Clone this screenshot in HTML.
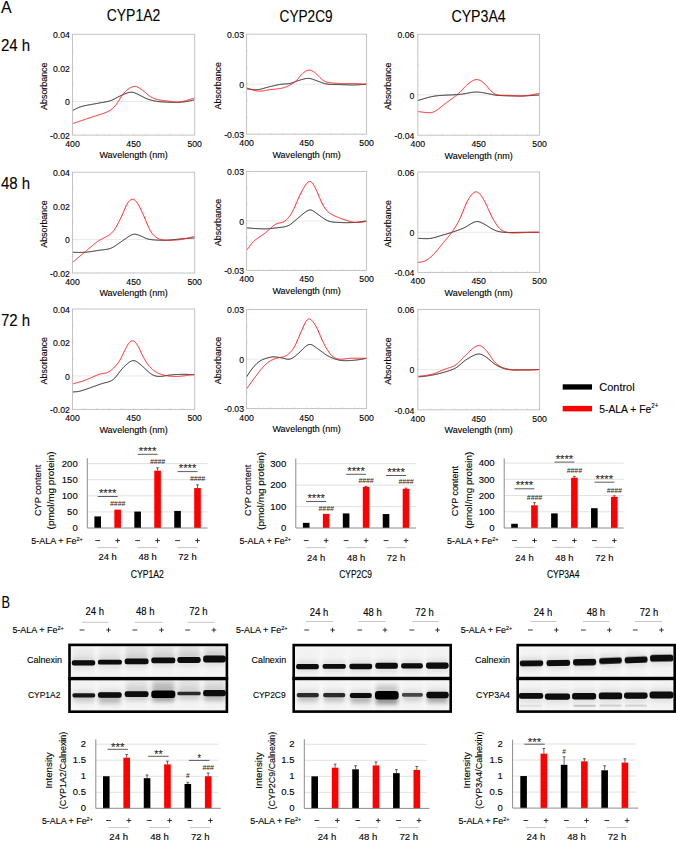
<!DOCTYPE html><html><head><meta charset="utf-8"><style>html,body{margin:0;padding:0;background:#fff;width:676px;height:841px;overflow:hidden;position:relative}</style></head><body><svg width="676" height="841" viewBox="0 0 676 841" style="position:absolute;left:0;top:0" font-family='"Liberation Sans", sans-serif'>
<style>text{stroke:#000;stroke-width:0.12px;paint-order:stroke}</style>
<defs><filter id="bl" x="-20%" y="-100%" width="140%" height="300%"><feGaussianBlur stdDeviation="0.65"/></filter><filter id="bl2" x="-20%" y="-100%" width="140%" height="300%"><feGaussianBlur stdDeviation="2"/></filter></defs>
<rect width="676" height="841" fill="#fff"/>
<text x="0.90" y="13.00" font-size="17" text-anchor="start" fill="#000" textLength="10.6" lengthAdjust="spacingAndGlyphs" style="stroke-width:0.1px">A</text>
<text x="133.50" y="21.30" font-size="16" text-anchor="middle" fill="#000" textLength="53.5" lengthAdjust="spacingAndGlyphs" style="stroke-width:0.1px">CYP1A2</text>
<text x="306.10" y="21.50" font-size="16" text-anchor="middle" fill="#000" textLength="53" lengthAdjust="spacingAndGlyphs" style="stroke-width:0.1px">CYP2C9</text>
<text x="478.60" y="21.50" font-size="16" text-anchor="middle" fill="#000" textLength="54.3" lengthAdjust="spacingAndGlyphs" style="stroke-width:0.1px">CYP3A4</text>
<text x="0.90" y="51.30" font-size="16" text-anchor="start" fill="#000" textLength="29.2" lengthAdjust="spacingAndGlyphs" style="stroke-width:0.1px">24 h</text>
<line x1="72.5" y1="101.50" x2="194.7" y2="101.50" stroke="#e3e3e3" stroke-width="0.8"/>
<line x1="84.72" y1="135.1" x2="84.72" y2="133.60" stroke="#cfcfcf" stroke-width="0.6"/>
<line x1="96.94" y1="135.1" x2="96.94" y2="133.60" stroke="#cfcfcf" stroke-width="0.6"/>
<line x1="109.16" y1="135.1" x2="109.16" y2="133.60" stroke="#cfcfcf" stroke-width="0.6"/>
<line x1="121.38" y1="135.1" x2="121.38" y2="133.60" stroke="#cfcfcf" stroke-width="0.6"/>
<line x1="133.60" y1="135.1" x2="133.60" y2="133.60" stroke="#cfcfcf" stroke-width="0.6"/>
<line x1="145.82" y1="135.1" x2="145.82" y2="133.60" stroke="#cfcfcf" stroke-width="0.6"/>
<line x1="158.04" y1="135.1" x2="158.04" y2="133.60" stroke="#cfcfcf" stroke-width="0.6"/>
<line x1="170.26" y1="135.1" x2="170.26" y2="133.60" stroke="#cfcfcf" stroke-width="0.6"/>
<line x1="182.48" y1="135.1" x2="182.48" y2="133.60" stroke="#cfcfcf" stroke-width="0.6"/>
<line x1="72.5" y1="51.10" x2="74.0" y2="51.10" stroke="#d5d5d5" stroke-width="0.6"/>
<line x1="72.5" y1="67.90" x2="74.0" y2="67.90" stroke="#d5d5d5" stroke-width="0.6"/>
<line x1="72.5" y1="84.70" x2="74.0" y2="84.70" stroke="#d5d5d5" stroke-width="0.6"/>
<line x1="72.5" y1="101.50" x2="74.0" y2="101.50" stroke="#d5d5d5" stroke-width="0.6"/>
<line x1="72.5" y1="118.30" x2="74.0" y2="118.30" stroke="#d5d5d5" stroke-width="0.6"/>
<path d="M72.90,110.41 L73.40,110.14 L73.90,109.87 L74.40,109.60 L74.90,109.33 L75.40,109.07 L75.90,108.81 L76.41,108.56 L76.91,108.32 L77.41,108.08 L77.91,107.86 L78.41,107.64 L78.91,107.44 L79.41,107.24 L79.91,107.06 L80.41,106.89 L80.91,106.72 L81.41,106.57 L81.91,106.43 L82.42,106.29 L82.92,106.16 L83.42,106.04 L83.92,105.92 L84.42,105.80 L84.92,105.69 L85.42,105.59 L85.92,105.48 L86.42,105.38 L86.92,105.28 L87.42,105.18 L87.92,105.08 L88.43,104.99 L88.93,104.90 L89.43,104.80 L89.93,104.71 L90.43,104.62 L90.93,104.53 L91.43,104.44 L91.93,104.35 L92.43,104.26 L92.93,104.17 L93.43,104.08 L93.93,103.99 L94.44,103.90 L94.94,103.81 L95.44,103.72 L95.94,103.63 L96.44,103.54 L96.94,103.45 L97.44,103.36 L97.94,103.26 L98.44,103.17 L98.94,103.08 L99.44,102.98 L99.94,102.89 L100.45,102.80 L100.95,102.72 L101.45,102.63 L101.95,102.55 L102.45,102.46 L102.95,102.38 L103.45,102.30 L103.95,102.22 L104.45,102.13 L104.95,102.05 L105.45,101.96 L105.95,101.86 L106.46,101.77 L106.96,101.67 L107.46,101.56 L107.96,101.44 L108.46,101.32 L108.96,101.18 L109.46,101.04 L109.96,100.88 L110.46,100.71 L110.96,100.53 L111.46,100.33 L111.96,100.13 L112.47,99.90 L112.97,99.67 L113.47,99.43 L113.97,99.17 L114.47,98.91 L114.97,98.64 L115.47,98.37 L115.97,98.10 L116.47,97.82 L116.97,97.55 L117.47,97.28 L117.97,97.02 L118.47,96.77 L118.98,96.52 L119.48,96.27 L119.98,96.04 L120.48,95.81 L120.98,95.58 L121.48,95.36 L121.98,95.14 L122.48,94.92 L122.98,94.70 L123.48,94.48 L123.98,94.27 L124.48,94.06 L124.99,93.86 L125.49,93.66 L125.99,93.46 L126.49,93.28 L126.99,93.10 L127.49,92.93 L127.99,92.78 L128.49,92.63 L128.99,92.51 L129.49,92.40 L129.99,92.31 L130.49,92.25 L131.00,92.21 L131.50,92.21 L132.00,92.23 L132.50,92.29 L133.00,92.38 L133.50,92.49 L134.00,92.64 L134.50,92.81 L135.00,93.00 L135.50,93.21 L136.00,93.43 L136.50,93.65 L137.01,93.88 L137.51,94.11 L138.01,94.35 L138.51,94.59 L139.01,94.84 L139.51,95.09 L140.01,95.35 L140.51,95.61 L141.01,95.87 L141.51,96.14 L142.01,96.41 L142.51,96.67 L143.02,96.94 L143.52,97.19 L144.02,97.45 L144.52,97.69 L145.02,97.93 L145.52,98.16 L146.02,98.38 L146.52,98.59 L147.02,98.79 L147.52,98.98 L148.02,99.17 L148.52,99.34 L149.03,99.50 L149.53,99.66 L150.03,99.81 L150.53,99.96 L151.03,100.09 L151.53,100.23 L152.03,100.35 L152.53,100.48 L153.03,100.59 L153.53,100.70 L154.03,100.81 L154.53,100.91 L155.03,101.01 L155.54,101.11 L156.04,101.20 L156.54,101.28 L157.04,101.36 L157.54,101.44 L158.04,101.51 L158.54,101.57 L159.04,101.63 L159.54,101.68 L160.04,101.73 L160.54,101.78 L161.04,101.82 L161.55,101.86 L162.05,101.89 L162.55,101.92 L163.05,101.95 L163.55,101.98 L164.05,102.01 L164.55,102.03 L165.05,102.05 L165.55,102.08 L166.05,102.10 L166.55,102.12 L167.05,102.14 L167.56,102.16 L168.06,102.18 L168.56,102.20 L169.06,102.21 L169.56,102.23 L170.06,102.24 L170.56,102.25 L171.06,102.26 L171.56,102.27 L172.06,102.28 L172.56,102.29 L173.06,102.30 L173.57,102.30 L174.07,102.31 L174.57,102.31 L175.07,102.31 L175.57,102.31 L176.07,102.31 L176.57,102.31 L177.07,102.30 L177.57,102.29 L178.07,102.28 L178.57,102.27 L179.07,102.25 L179.58,102.23 L180.08,102.21 L180.58,102.18 L181.08,102.15 L181.58,102.11 L182.08,102.07 L182.58,102.03 L183.08,101.98 L183.58,101.92 L184.08,101.86 L184.58,101.79 L185.08,101.72 L185.59,101.65 L186.09,101.57 L186.59,101.48 L187.09,101.39 L187.59,101.30 L188.09,101.20 L188.59,101.10 L189.09,101.00 L189.59,100.90 L190.09,100.79 L190.59,100.68 L191.09,100.57 L191.60,100.46 L192.10,100.35 L192.60,100.24 L193.10,100.13 L193.60,100.02 L194.10,99.91 L194.60,99.80" fill="none" stroke="#1a1a1a" stroke-width="1.0"/>
<path d="M72.90,123.50 L73.40,123.33 L73.90,123.16 L74.40,123.00 L74.90,122.83 L75.40,122.66 L75.90,122.49 L76.41,122.32 L76.91,122.15 L77.41,121.99 L77.91,121.82 L78.41,121.65 L78.91,121.48 L79.41,121.31 L79.91,121.15 L80.41,120.98 L80.91,120.81 L81.41,120.64 L81.91,120.47 L82.42,120.30 L82.92,120.13 L83.42,119.96 L83.92,119.80 L84.42,119.63 L84.92,119.46 L85.42,119.29 L85.92,119.12 L86.42,118.95 L86.92,118.78 L87.42,118.61 L87.92,118.44 L88.43,118.27 L88.93,118.10 L89.43,117.93 L89.93,117.76 L90.43,117.59 L90.93,117.43 L91.43,117.26 L91.93,117.10 L92.43,116.94 L92.93,116.78 L93.43,116.62 L93.93,116.46 L94.44,116.30 L94.94,116.14 L95.44,115.98 L95.94,115.82 L96.44,115.67 L96.94,115.51 L97.44,115.35 L97.94,115.19 L98.44,115.03 L98.94,114.86 L99.44,114.70 L99.94,114.54 L100.45,114.37 L100.95,114.20 L101.45,114.04 L101.95,113.87 L102.45,113.69 L102.95,113.52 L103.45,113.34 L103.95,113.16 L104.45,112.97 L104.95,112.78 L105.45,112.59 L105.95,112.38 L106.46,112.18 L106.96,111.96 L107.46,111.74 L107.96,111.50 L108.46,111.26 L108.96,111.00 L109.46,110.73 L109.96,110.44 L110.46,110.13 L110.96,109.79 L111.46,109.43 L111.96,109.04 L112.47,108.62 L112.97,108.16 L113.47,107.67 L113.97,107.15 L114.47,106.59 L114.97,106.01 L115.47,105.40 L115.97,104.76 L116.47,104.09 L116.97,103.38 L117.47,102.65 L117.97,101.89 L118.47,101.11 L118.98,100.30 L119.48,99.48 L119.98,98.67 L120.48,97.85 L120.98,97.06 L121.48,96.29 L121.98,95.55 L122.48,94.85 L122.98,94.19 L123.48,93.57 L123.98,92.99 L124.48,92.44 L124.99,91.92 L125.49,91.44 L125.99,90.97 L126.49,90.53 L126.99,90.10 L127.49,89.70 L127.99,89.31 L128.49,88.94 L128.99,88.59 L129.49,88.26 L129.99,87.95 L130.49,87.66 L131.00,87.40 L131.50,87.16 L132.00,86.94 L132.50,86.76 L133.00,86.62 L133.50,86.50 L134.00,86.43 L134.50,86.40 L135.00,86.41 L135.50,86.47 L136.00,86.56 L136.50,86.70 L137.01,86.87 L137.51,87.08 L138.01,87.32 L138.51,87.58 L139.01,87.86 L139.51,88.16 L140.01,88.47 L140.51,88.79 L141.01,89.13 L141.51,89.47 L142.01,89.83 L142.51,90.19 L143.02,90.58 L143.52,90.97 L144.02,91.37 L144.52,91.79 L145.02,92.21 L145.52,92.64 L146.02,93.07 L146.52,93.50 L147.02,93.92 L147.52,94.34 L148.02,94.76 L148.52,95.16 L149.03,95.55 L149.53,95.92 L150.03,96.28 L150.53,96.62 L151.03,96.94 L151.53,97.24 L152.03,97.52 L152.53,97.78 L153.03,98.03 L153.53,98.25 L154.03,98.46 L154.53,98.66 L155.03,98.83 L155.54,99.00 L156.04,99.15 L156.54,99.29 L157.04,99.43 L157.54,99.55 L158.04,99.67 L158.54,99.78 L159.04,99.88 L159.54,99.98 L160.04,100.07 L160.54,100.16 L161.04,100.24 L161.55,100.31 L162.05,100.38 L162.55,100.45 L163.05,100.52 L163.55,100.58 L164.05,100.64 L164.55,100.70 L165.05,100.75 L165.55,100.81 L166.05,100.86 L166.55,100.92 L167.05,100.97 L167.56,101.02 L168.06,101.08 L168.56,101.14 L169.06,101.20 L169.56,101.26 L170.06,101.33 L170.56,101.40 L171.06,101.48 L171.56,101.55 L172.06,101.63 L172.56,101.72 L173.06,101.80 L173.57,101.88 L174.07,101.96 L174.57,102.03 L175.07,102.09 L175.57,102.14 L176.07,102.18 L176.57,102.21 L177.07,102.22 L177.57,102.22 L178.07,102.21 L178.57,102.18 L179.07,102.13 L179.58,102.07 L180.08,102.00 L180.58,101.92 L181.08,101.83 L181.58,101.73 L182.08,101.62 L182.58,101.51 L183.08,101.39 L183.58,101.26 L184.08,101.14 L184.58,101.00 L185.08,100.87 L185.59,100.73 L186.09,100.59 L186.59,100.45 L187.09,100.31 L187.59,100.16 L188.09,100.01 L188.59,99.85 L189.09,99.69 L189.59,99.54 L190.09,99.38 L190.59,99.21 L191.09,99.05 L191.60,98.89 L192.10,98.72 L192.60,98.56 L193.10,98.39 L193.60,98.23 L194.10,98.06 L194.60,97.90" fill="none" stroke="#ff1a1a" stroke-width="1.0"/>
<rect x="72.5" y="34.3" width="122.20" height="100.80" fill="none" stroke="#bdbdbd" stroke-width="0.9"/>
<text x="69.90" y="38.10" font-size="8.7" text-anchor="end" fill="#000">0.04</text>
<text x="69.90" y="71.70" font-size="8.7" text-anchor="end" fill="#000">0.02</text>
<text x="69.90" y="105.30" font-size="8.7" text-anchor="end" fill="#000">0</text>
<text x="69.90" y="138.90" font-size="8.7" text-anchor="end" fill="#000">-0.02</text>
<text x="72.50" y="147.10" font-size="8.7" text-anchor="middle" fill="#000">400</text>
<text x="133.60" y="147.10" font-size="8.7" text-anchor="middle" fill="#000">450</text>
<text x="194.70" y="147.10" font-size="8.7" text-anchor="middle" fill="#000">500</text>
<text x="133.60" y="158.40" font-size="9" text-anchor="middle" fill="#000" textLength="68.3" lengthAdjust="spacingAndGlyphs">Wavelength (nm)</text>
<text transform="translate(47.30,86.20) rotate(-90)" x="0" y="0" font-size="9" text-anchor="middle" fill="#000" textLength="47.4" lengthAdjust="spacingAndGlyphs">Absorbance</text>
<line x1="246.6" y1="84.20" x2="366.6" y2="84.20" stroke="#e3e3e3" stroke-width="0.8"/>
<line x1="258.60" y1="134.2" x2="258.60" y2="132.70" stroke="#cfcfcf" stroke-width="0.6"/>
<line x1="270.60" y1="134.2" x2="270.60" y2="132.70" stroke="#cfcfcf" stroke-width="0.6"/>
<line x1="282.60" y1="134.2" x2="282.60" y2="132.70" stroke="#cfcfcf" stroke-width="0.6"/>
<line x1="294.60" y1="134.2" x2="294.60" y2="132.70" stroke="#cfcfcf" stroke-width="0.6"/>
<line x1="306.60" y1="134.2" x2="306.60" y2="132.70" stroke="#cfcfcf" stroke-width="0.6"/>
<line x1="318.60" y1="134.2" x2="318.60" y2="132.70" stroke="#cfcfcf" stroke-width="0.6"/>
<line x1="330.60" y1="134.2" x2="330.60" y2="132.70" stroke="#cfcfcf" stroke-width="0.6"/>
<line x1="342.60" y1="134.2" x2="342.60" y2="132.70" stroke="#cfcfcf" stroke-width="0.6"/>
<line x1="354.60" y1="134.2" x2="354.60" y2="132.70" stroke="#cfcfcf" stroke-width="0.6"/>
<line x1="246.6" y1="50.87" x2="248.1" y2="50.87" stroke="#d5d5d5" stroke-width="0.6"/>
<line x1="246.6" y1="67.53" x2="248.1" y2="67.53" stroke="#d5d5d5" stroke-width="0.6"/>
<line x1="246.6" y1="84.20" x2="248.1" y2="84.20" stroke="#d5d5d5" stroke-width="0.6"/>
<line x1="246.6" y1="100.87" x2="248.1" y2="100.87" stroke="#d5d5d5" stroke-width="0.6"/>
<line x1="246.6" y1="117.53" x2="248.1" y2="117.53" stroke="#d5d5d5" stroke-width="0.6"/>
<path d="M246.70,88.80 L247.20,88.87 L247.70,88.94 L248.20,89.02 L248.70,89.09 L249.20,89.17 L249.70,89.24 L250.20,89.31 L250.70,89.38 L251.20,89.45 L251.70,89.51 L252.20,89.57 L252.70,89.63 L253.20,89.68 L253.70,89.72 L254.20,89.75 L254.70,89.77 L255.20,89.79 L255.70,89.79 L256.20,89.79 L256.70,89.77 L257.20,89.73 L257.70,89.69 L258.20,89.63 L258.71,89.56 L259.21,89.47 L259.71,89.38 L260.21,89.27 L260.71,89.16 L261.21,89.04 L261.71,88.91 L262.21,88.77 L262.71,88.63 L263.21,88.49 L263.71,88.34 L264.21,88.20 L264.71,88.05 L265.21,87.90 L265.71,87.76 L266.21,87.61 L266.71,87.47 L267.21,87.33 L267.71,87.20 L268.21,87.07 L268.71,86.94 L269.21,86.81 L269.71,86.69 L270.21,86.57 L270.71,86.45 L271.21,86.34 L271.71,86.22 L272.21,86.10 L272.71,85.99 L273.21,85.87 L273.71,85.76 L274.21,85.65 L274.71,85.53 L275.21,85.42 L275.71,85.32 L276.21,85.21 L276.71,85.10 L277.21,85.00 L277.71,84.90 L278.21,84.81 L278.71,84.71 L279.21,84.62 L279.71,84.54 L280.21,84.46 L280.71,84.39 L281.21,84.32 L281.71,84.26 L282.21,84.20 L282.72,84.16 L283.22,84.11 L283.72,84.07 L284.22,84.04 L284.72,84.01 L285.22,83.97 L285.72,83.94 L286.22,83.91 L286.72,83.87 L287.22,83.83 L287.72,83.78 L288.22,83.72 L288.72,83.65 L289.22,83.57 L289.72,83.48 L290.22,83.37 L290.72,83.25 L291.22,83.12 L291.72,82.97 L292.22,82.80 L292.72,82.63 L293.22,82.45 L293.72,82.26 L294.22,82.07 L294.72,81.88 L295.22,81.69 L295.72,81.50 L296.22,81.32 L296.72,81.15 L297.22,80.98 L297.72,80.81 L298.22,80.65 L298.72,80.50 L299.22,80.34 L299.72,80.19 L300.22,80.04 L300.72,79.89 L301.22,79.74 L301.72,79.59 L302.22,79.45 L302.72,79.31 L303.22,79.18 L303.72,79.05 L304.22,78.93 L304.72,78.82 L305.22,78.72 L305.72,78.63 L306.22,78.55 L306.73,78.49 L307.23,78.45 L307.73,78.42 L308.23,78.41 L308.73,78.43 L309.23,78.46 L309.73,78.52 L310.23,78.60 L310.73,78.70 L311.23,78.82 L311.73,78.95 L312.23,79.11 L312.73,79.27 L313.23,79.44 L313.73,79.62 L314.23,79.81 L314.73,80.00 L315.23,80.18 L315.73,80.37 L316.23,80.55 L316.73,80.74 L317.23,80.92 L317.73,81.10 L318.23,81.29 L318.73,81.48 L319.23,81.67 L319.73,81.86 L320.23,82.05 L320.73,82.24 L321.23,82.43 L321.73,82.62 L322.23,82.80 L322.73,82.97 L323.23,83.13 L323.73,83.29 L324.23,83.43 L324.73,83.57 L325.23,83.69 L325.73,83.80 L326.23,83.90 L326.73,83.98 L327.23,84.06 L327.73,84.13 L328.23,84.19 L328.73,84.24 L329.23,84.28 L329.73,84.32 L330.23,84.36 L330.74,84.38 L331.24,84.41 L331.74,84.43 L332.24,84.45 L332.74,84.46 L333.24,84.47 L333.74,84.48 L334.24,84.49 L334.74,84.50 L335.24,84.51 L335.74,84.52 L336.24,84.52 L336.74,84.53 L337.24,84.54 L337.74,84.55 L338.24,84.56 L338.74,84.57 L339.24,84.58 L339.74,84.60 L340.24,84.61 L340.74,84.63 L341.24,84.65 L341.74,84.67 L342.24,84.69 L342.74,84.70 L343.24,84.72 L343.74,84.74 L344.24,84.76 L344.74,84.78 L345.24,84.80 L345.74,84.82 L346.24,84.84 L346.74,84.86 L347.24,84.88 L347.74,84.89 L348.24,84.91 L348.74,84.92 L349.24,84.94 L349.74,84.95 L350.24,84.96 L350.74,84.98 L351.24,84.99 L351.74,84.99 L352.24,85.00 L352.74,85.00 L353.24,85.01 L353.74,85.00 L354.24,85.00 L354.75,84.99 L355.25,84.98 L355.75,84.97 L356.25,84.95 L356.75,84.93 L357.25,84.91 L357.75,84.88 L358.25,84.84 L358.75,84.81 L359.25,84.77 L359.75,84.73 L360.25,84.68 L360.75,84.63 L361.25,84.59 L361.75,84.53 L362.25,84.48 L362.75,84.43 L363.25,84.37 L363.75,84.31 L364.25,84.26 L364.75,84.20 L365.25,84.14 L365.75,84.08 L366.25,84.03 L366.50,84.00" fill="none" stroke="#1a1a1a" stroke-width="1.0"/>
<path d="M246.70,87.90 L247.20,88.06 L247.70,88.23 L248.20,88.40 L248.70,88.57 L249.20,88.74 L249.70,88.91 L250.20,89.08 L250.70,89.25 L251.20,89.41 L251.70,89.57 L252.20,89.73 L252.70,89.89 L253.20,90.04 L253.70,90.19 L254.20,90.33 L254.70,90.46 L255.20,90.58 L255.70,90.70 L256.20,90.81 L256.70,90.90 L257.20,90.98 L257.70,91.05 L258.20,91.10 L258.71,91.14 L259.21,91.16 L259.71,91.17 L260.21,91.16 L260.71,91.13 L261.21,91.09 L261.71,91.04 L262.21,90.97 L262.71,90.90 L263.21,90.82 L263.71,90.73 L264.21,90.64 L264.71,90.54 L265.21,90.45 L265.71,90.35 L266.21,90.25 L266.71,90.16 L267.21,90.07 L267.71,89.99 L268.21,89.91 L268.71,89.84 L269.21,89.78 L269.71,89.72 L270.21,89.66 L270.71,89.60 L271.21,89.55 L271.71,89.50 L272.21,89.45 L272.71,89.41 L273.21,89.36 L273.71,89.31 L274.21,89.27 L274.71,89.22 L275.21,89.17 L275.71,89.12 L276.21,89.07 L276.71,89.01 L277.21,88.95 L277.71,88.89 L278.21,88.82 L278.71,88.75 L279.21,88.67 L279.71,88.59 L280.21,88.50 L280.71,88.40 L281.21,88.30 L281.71,88.19 L282.21,88.07 L282.72,87.94 L283.22,87.80 L283.72,87.66 L284.22,87.50 L284.72,87.34 L285.22,87.16 L285.72,86.98 L286.22,86.78 L286.72,86.58 L287.22,86.36 L287.72,86.14 L288.22,85.91 L288.72,85.67 L289.22,85.42 L289.72,85.16 L290.22,84.90 L290.72,84.62 L291.22,84.34 L291.72,84.04 L292.22,83.74 L292.72,83.42 L293.22,83.08 L293.72,82.73 L294.22,82.36 L294.72,81.97 L295.22,81.55 L295.72,81.11 L296.22,80.64 L296.72,80.13 L297.22,79.61 L297.72,79.05 L298.22,78.48 L298.72,77.88 L299.22,77.28 L299.72,76.69 L300.22,76.09 L300.72,75.52 L301.22,74.96 L301.72,74.43 L302.22,73.93 L302.72,73.46 L303.22,73.02 L303.72,72.61 L304.22,72.22 L304.72,71.87 L305.22,71.54 L305.72,71.25 L306.22,70.98 L306.73,70.76 L307.23,70.57 L307.73,70.42 L308.23,70.31 L308.73,70.24 L309.23,70.22 L309.73,70.25 L310.23,70.31 L310.73,70.42 L311.23,70.56 L311.73,70.74 L312.23,70.95 L312.73,71.20 L313.23,71.47 L313.73,71.77 L314.23,72.10 L314.73,72.45 L315.23,72.84 L315.73,73.25 L316.23,73.69 L316.73,74.16 L317.23,74.64 L317.73,75.15 L318.23,75.66 L318.73,76.18 L319.23,76.69 L319.73,77.20 L320.23,77.69 L320.73,78.18 L321.23,78.65 L321.73,79.10 L322.23,79.53 L322.73,79.94 L323.23,80.32 L323.73,80.67 L324.23,80.99 L324.73,81.27 L325.23,81.51 L325.73,81.72 L326.23,81.91 L326.73,82.06 L327.23,82.20 L327.73,82.32 L328.23,82.43 L328.73,82.52 L329.23,82.61 L329.73,82.68 L330.23,82.75 L330.74,82.82 L331.24,82.88 L331.74,82.93 L332.24,82.98 L332.74,83.03 L333.24,83.08 L333.74,83.12 L334.24,83.16 L334.74,83.19 L335.24,83.23 L335.74,83.26 L336.24,83.29 L336.74,83.32 L337.24,83.35 L337.74,83.38 L338.24,83.41 L338.74,83.43 L339.24,83.46 L339.74,83.48 L340.24,83.50 L340.74,83.52 L341.24,83.53 L341.74,83.54 L342.24,83.55 L342.74,83.56 L343.24,83.56 L343.74,83.57 L344.24,83.57 L344.74,83.57 L345.24,83.56 L345.74,83.56 L346.24,83.55 L346.74,83.55 L347.24,83.54 L347.74,83.53 L348.24,83.52 L348.74,83.52 L349.24,83.51 L349.74,83.50 L350.24,83.49 L350.74,83.49 L351.24,83.48 L351.74,83.48 L352.24,83.48 L352.74,83.48 L353.24,83.48 L353.74,83.48 L354.24,83.49 L354.75,83.50 L355.25,83.51 L355.75,83.53 L356.25,83.55 L356.75,83.57 L357.25,83.60 L357.75,83.63 L358.25,83.66 L358.75,83.69 L359.25,83.73 L359.75,83.77 L360.25,83.81 L360.75,83.85 L361.25,83.90 L361.75,83.94 L362.25,83.99 L362.75,84.03 L363.25,84.08 L363.75,84.13 L364.25,84.18 L364.75,84.23 L365.25,84.28 L365.75,84.33 L366.25,84.38 L366.50,84.40" fill="none" stroke="#ff1a1a" stroke-width="1.0"/>
<rect x="246.6" y="34.2" width="120.00" height="100.00" fill="none" stroke="#bdbdbd" stroke-width="0.9"/>
<text x="244.00" y="38.00" font-size="8.7" text-anchor="end" fill="#000">0.03</text>
<text x="244.00" y="88.00" font-size="8.7" text-anchor="end" fill="#000">0</text>
<text x="244.00" y="138.00" font-size="8.7" text-anchor="end" fill="#000">-0.03</text>
<text x="246.60" y="146.20" font-size="8.7" text-anchor="middle" fill="#000">400</text>
<text x="306.60" y="146.20" font-size="8.7" text-anchor="middle" fill="#000">450</text>
<text x="366.60" y="146.20" font-size="8.7" text-anchor="middle" fill="#000">500</text>
<text x="306.60" y="157.50" font-size="9" text-anchor="middle" fill="#000" textLength="68.3" lengthAdjust="spacingAndGlyphs">Wavelength (nm)</text>
<text transform="translate(221.40,85.70) rotate(-90)" x="0" y="0" font-size="9" text-anchor="middle" fill="#000" textLength="47.4" lengthAdjust="spacingAndGlyphs">Absorbance</text>
<line x1="417.8" y1="94.84" x2="539.6" y2="94.84" stroke="#e3e3e3" stroke-width="0.8"/>
<line x1="429.98" y1="135.2" x2="429.98" y2="133.70" stroke="#cfcfcf" stroke-width="0.6"/>
<line x1="442.16" y1="135.2" x2="442.16" y2="133.70" stroke="#cfcfcf" stroke-width="0.6"/>
<line x1="454.34" y1="135.2" x2="454.34" y2="133.70" stroke="#cfcfcf" stroke-width="0.6"/>
<line x1="466.52" y1="135.2" x2="466.52" y2="133.70" stroke="#cfcfcf" stroke-width="0.6"/>
<line x1="478.70" y1="135.2" x2="478.70" y2="133.70" stroke="#cfcfcf" stroke-width="0.6"/>
<line x1="490.88" y1="135.2" x2="490.88" y2="133.70" stroke="#cfcfcf" stroke-width="0.6"/>
<line x1="503.06" y1="135.2" x2="503.06" y2="133.70" stroke="#cfcfcf" stroke-width="0.6"/>
<line x1="515.24" y1="135.2" x2="515.24" y2="133.70" stroke="#cfcfcf" stroke-width="0.6"/>
<line x1="527.42" y1="135.2" x2="527.42" y2="133.70" stroke="#cfcfcf" stroke-width="0.6"/>
<line x1="417.8" y1="44.39" x2="419.3" y2="44.39" stroke="#d5d5d5" stroke-width="0.6"/>
<line x1="417.8" y1="54.48" x2="419.3" y2="54.48" stroke="#d5d5d5" stroke-width="0.6"/>
<line x1="417.8" y1="64.57" x2="419.3" y2="64.57" stroke="#d5d5d5" stroke-width="0.6"/>
<line x1="417.8" y1="74.66" x2="419.3" y2="74.66" stroke="#d5d5d5" stroke-width="0.6"/>
<line x1="417.8" y1="84.75" x2="419.3" y2="84.75" stroke="#d5d5d5" stroke-width="0.6"/>
<line x1="417.8" y1="94.84" x2="419.3" y2="94.84" stroke="#d5d5d5" stroke-width="0.6"/>
<line x1="417.8" y1="104.93" x2="419.3" y2="104.93" stroke="#d5d5d5" stroke-width="0.6"/>
<line x1="417.8" y1="115.02" x2="419.3" y2="115.02" stroke="#d5d5d5" stroke-width="0.6"/>
<line x1="417.8" y1="125.11" x2="419.3" y2="125.11" stroke="#d5d5d5" stroke-width="0.6"/>
<path d="M418.00,100.50 L418.50,100.35 L419.00,100.19 L419.50,100.04 L420.00,99.89 L420.50,99.73 L421.00,99.58 L421.50,99.42 L422.00,99.27 L422.51,99.11 L423.01,98.96 L423.51,98.81 L424.01,98.66 L424.51,98.51 L425.01,98.36 L425.51,98.21 L426.01,98.07 L426.51,97.93 L427.01,97.79 L427.51,97.65 L428.01,97.52 L428.51,97.39 L429.01,97.26 L429.51,97.14 L430.01,97.02 L430.52,96.90 L431.02,96.79 L431.52,96.68 L432.02,96.58 L432.52,96.48 L433.02,96.38 L433.52,96.29 L434.02,96.21 L434.52,96.13 L435.02,96.05 L435.52,95.98 L436.02,95.92 L436.52,95.85 L437.02,95.80 L437.52,95.74 L438.02,95.69 L438.53,95.64 L439.03,95.60 L439.53,95.55 L440.03,95.51 L440.53,95.47 L441.03,95.43 L441.53,95.40 L442.03,95.36 L442.53,95.33 L443.03,95.30 L443.53,95.28 L444.03,95.25 L444.53,95.23 L445.03,95.20 L445.53,95.18 L446.03,95.16 L446.54,95.13 L447.04,95.11 L447.54,95.09 L448.04,95.07 L448.54,95.05 L449.04,95.03 L449.54,95.01 L450.04,94.99 L450.54,94.97 L451.04,94.95 L451.54,94.92 L452.04,94.90 L452.54,94.88 L453.04,94.85 L453.54,94.83 L454.04,94.81 L454.55,94.78 L455.05,94.75 L455.55,94.72 L456.05,94.69 L456.55,94.66 L457.05,94.63 L457.55,94.59 L458.05,94.55 L458.55,94.51 L459.05,94.47 L459.55,94.42 L460.05,94.37 L460.55,94.32 L461.05,94.26 L461.55,94.20 L462.05,94.13 L462.56,94.06 L463.06,93.98 L463.56,93.90 L464.06,93.82 L464.56,93.73 L465.06,93.64 L465.56,93.55 L466.06,93.45 L466.56,93.35 L467.06,93.26 L467.56,93.16 L468.06,93.06 L468.56,92.97 L469.06,92.87 L469.56,92.78 L470.06,92.69 L470.56,92.60 L471.07,92.52 L471.57,92.44 L472.07,92.36 L472.57,92.30 L473.07,92.24 L473.57,92.18 L474.07,92.14 L474.57,92.10 L475.07,92.08 L475.57,92.06 L476.07,92.05 L476.57,92.05 L477.07,92.06 L477.57,92.08 L478.07,92.10 L478.57,92.14 L479.08,92.18 L479.58,92.23 L480.08,92.28 L480.58,92.34 L481.08,92.41 L481.58,92.48 L482.08,92.56 L482.58,92.64 L483.08,92.72 L483.58,92.81 L484.08,92.90 L484.58,93.00 L485.08,93.09 L485.58,93.19 L486.08,93.28 L486.58,93.38 L487.09,93.48 L487.59,93.57 L488.09,93.67 L488.59,93.76 L489.09,93.86 L489.59,93.95 L490.09,94.05 L490.59,94.15 L491.09,94.25 L491.59,94.35 L492.09,94.46 L492.59,94.57 L493.09,94.68 L493.59,94.79 L494.09,94.89 L494.59,94.98 L495.10,95.07 L495.60,95.14 L496.10,95.21 L496.60,95.26 L497.10,95.31 L497.60,95.36 L498.10,95.40 L498.60,95.43 L499.10,95.47 L499.60,95.50 L500.10,95.52 L500.60,95.55 L501.10,95.58 L501.60,95.60 L502.10,95.62 L502.60,95.65 L503.11,95.67 L503.61,95.69 L504.11,95.71 L504.61,95.73 L505.11,95.75 L505.61,95.77 L506.11,95.78 L506.61,95.80 L507.11,95.82 L507.61,95.83 L508.11,95.85 L508.61,95.86 L509.11,95.87 L509.61,95.89 L510.11,95.90 L510.61,95.91 L511.12,95.92 L511.62,95.93 L512.12,95.94 L512.62,95.95 L513.12,95.96 L513.62,95.97 L514.12,95.98 L514.62,95.98 L515.12,95.99 L515.62,95.99 L516.12,96.00 L516.62,96.00 L517.12,96.00 L517.62,96.00 L518.12,96.00 L518.62,96.00 L519.12,96.00 L519.63,95.99 L520.13,95.99 L520.63,95.98 L521.13,95.97 L521.63,95.96 L522.13,95.95 L522.63,95.93 L523.13,95.92 L523.63,95.90 L524.13,95.88 L524.63,95.86 L525.13,95.84 L525.63,95.82 L526.13,95.80 L526.63,95.77 L527.13,95.75 L527.64,95.72 L528.14,95.70 L528.64,95.67 L529.14,95.64 L529.64,95.61 L530.14,95.58 L530.64,95.55 L531.14,95.52 L531.64,95.49 L532.14,95.46 L532.64,95.43 L533.14,95.40 L533.64,95.37 L534.14,95.33 L534.64,95.30 L535.14,95.27 L535.65,95.24 L536.15,95.20 L536.65,95.17 L537.15,95.14 L537.65,95.11 L538.15,95.08 L538.65,95.05 L539.15,95.01 L539.40,95.00" fill="none" stroke="#1a1a1a" stroke-width="1.0"/>
<path d="M418.00,111.50 L418.50,111.57 L419.00,111.65 L419.50,111.73 L420.00,111.80 L420.50,111.88 L421.00,111.95 L421.50,112.02 L422.00,112.09 L422.51,112.16 L423.01,112.22 L423.51,112.28 L424.01,112.33 L424.51,112.38 L425.01,112.42 L425.51,112.47 L426.01,112.51 L426.51,112.54 L427.01,112.58 L427.51,112.62 L428.01,112.66 L428.51,112.69 L429.01,112.71 L429.51,112.72 L430.01,112.71 L430.52,112.68 L431.02,112.63 L431.52,112.56 L432.02,112.45 L432.52,112.32 L433.02,112.16 L433.52,111.97 L434.02,111.75 L434.52,111.51 L435.02,111.25 L435.52,110.96 L436.02,110.65 L436.52,110.32 L437.02,109.98 L437.52,109.63 L438.02,109.27 L438.53,108.90 L439.03,108.51 L439.53,108.13 L440.03,107.74 L440.53,107.34 L441.03,106.94 L441.53,106.54 L442.03,106.14 L442.53,105.74 L443.03,105.34 L443.53,104.94 L444.03,104.54 L444.53,104.15 L445.03,103.76 L445.53,103.38 L446.03,103.00 L446.54,102.62 L447.04,102.25 L447.54,101.88 L448.04,101.52 L448.54,101.15 L449.04,100.79 L449.54,100.43 L450.04,100.07 L450.54,99.71 L451.04,99.35 L451.54,98.99 L452.04,98.62 L452.54,98.26 L453.04,97.89 L453.54,97.51 L454.04,97.14 L454.55,96.76 L455.05,96.37 L455.55,95.98 L456.05,95.58 L456.55,95.17 L457.05,94.75 L457.55,94.33 L458.05,93.89 L458.55,93.43 L459.05,92.97 L459.55,92.49 L460.05,92.00 L460.55,91.49 L461.05,90.98 L461.55,90.46 L462.05,89.93 L462.56,89.39 L463.06,88.86 L463.56,88.32 L464.06,87.79 L464.56,87.26 L465.06,86.75 L465.56,86.24 L466.06,85.75 L466.56,85.27 L467.06,84.82 L467.56,84.37 L468.06,83.95 L468.56,83.53 L469.06,83.14 L469.56,82.75 L470.06,82.38 L470.56,82.03 L471.07,81.69 L471.57,81.37 L472.07,81.06 L472.57,80.78 L473.07,80.53 L473.57,80.29 L474.07,80.09 L474.57,79.92 L475.07,79.79 L475.57,79.68 L476.07,79.62 L476.57,79.59 L477.07,79.61 L477.57,79.66 L478.07,79.75 L478.57,79.88 L479.08,80.05 L479.58,80.25 L480.08,80.48 L480.58,80.74 L481.08,81.03 L481.58,81.35 L482.08,81.69 L482.58,82.06 L483.08,82.45 L483.58,82.86 L484.08,83.30 L484.58,83.77 L485.08,84.26 L485.58,84.78 L486.08,85.32 L486.58,85.88 L487.09,86.46 L487.59,87.05 L488.09,87.65 L488.59,88.25 L489.09,88.84 L489.59,89.43 L490.09,89.99 L490.59,90.54 L491.09,91.06 L491.59,91.55 L492.09,92.01 L492.59,92.44 L493.09,92.83 L493.59,93.19 L494.09,93.51 L494.59,93.80 L495.10,94.05 L495.60,94.27 L496.10,94.46 L496.60,94.62 L497.10,94.75 L497.60,94.87 L498.10,94.96 L498.60,95.04 L499.10,95.11 L499.60,95.17 L500.10,95.21 L500.60,95.25 L501.10,95.28 L501.60,95.30 L502.10,95.32 L502.60,95.33 L503.11,95.34 L503.61,95.34 L504.11,95.34 L504.61,95.35 L505.11,95.35 L505.61,95.35 L506.11,95.35 L506.61,95.35 L507.11,95.36 L507.61,95.36 L508.11,95.37 L508.61,95.38 L509.11,95.39 L509.61,95.41 L510.11,95.43 L510.61,95.45 L511.12,95.48 L511.62,95.51 L512.12,95.54 L512.62,95.57 L513.12,95.61 L513.62,95.65 L514.12,95.69 L514.62,95.73 L515.12,95.77 L515.62,95.80 L516.12,95.84 L516.62,95.88 L517.12,95.91 L517.62,95.94 L518.12,95.97 L518.62,95.99 L519.12,96.02 L519.63,96.03 L520.13,96.04 L520.63,96.05 L521.13,96.05 L521.63,96.05 L522.13,96.04 L522.63,96.03 L523.13,96.00 L523.63,95.98 L524.13,95.94 L524.63,95.90 L525.13,95.85 L525.63,95.80 L526.13,95.74 L526.63,95.68 L527.13,95.61 L527.64,95.54 L528.14,95.47 L528.64,95.39 L529.14,95.31 L529.64,95.23 L530.14,95.15 L530.64,95.06 L531.14,94.97 L531.64,94.88 L532.14,94.79 L532.64,94.70 L533.14,94.60 L533.64,94.51 L534.14,94.41 L534.64,94.32 L535.14,94.22 L535.65,94.12 L536.15,94.02 L536.65,93.93 L537.15,93.83 L537.65,93.73 L538.15,93.64 L538.65,93.54 L539.15,93.45 L539.40,93.40" fill="none" stroke="#ff1a1a" stroke-width="1.0"/>
<rect x="417.8" y="34.3" width="121.80" height="100.90" fill="none" stroke="#bdbdbd" stroke-width="0.9"/>
<text x="414.40" y="38.10" font-size="8.7" text-anchor="end" fill="#000">0.06</text>
<text x="414.40" y="98.64" font-size="8.7" text-anchor="end" fill="#000">0</text>
<text x="414.40" y="139.00" font-size="8.7" text-anchor="end" fill="#000">-0.04</text>
<text x="417.80" y="147.20" font-size="8.7" text-anchor="middle" fill="#000">400</text>
<text x="478.70" y="147.20" font-size="8.7" text-anchor="middle" fill="#000">450</text>
<text x="539.60" y="147.20" font-size="8.7" text-anchor="middle" fill="#000">500</text>
<text x="478.70" y="158.50" font-size="9" text-anchor="middle" fill="#000" textLength="68.3" lengthAdjust="spacingAndGlyphs">Wavelength (nm)</text>
<text transform="translate(390.60,86.25) rotate(-90)" x="0" y="0" font-size="9" text-anchor="middle" fill="#000" textLength="47.4" lengthAdjust="spacingAndGlyphs">Absorbance</text>
<text x="0.90" y="189.20" font-size="16" text-anchor="start" fill="#000" textLength="29.2" lengthAdjust="spacingAndGlyphs" style="stroke-width:0.1px">48 h</text>
<line x1="72.5" y1="239.40" x2="194.7" y2="239.40" stroke="#e3e3e3" stroke-width="0.8"/>
<line x1="84.72" y1="273.0" x2="84.72" y2="271.50" stroke="#cfcfcf" stroke-width="0.6"/>
<line x1="96.94" y1="273.0" x2="96.94" y2="271.50" stroke="#cfcfcf" stroke-width="0.6"/>
<line x1="109.16" y1="273.0" x2="109.16" y2="271.50" stroke="#cfcfcf" stroke-width="0.6"/>
<line x1="121.38" y1="273.0" x2="121.38" y2="271.50" stroke="#cfcfcf" stroke-width="0.6"/>
<line x1="133.60" y1="273.0" x2="133.60" y2="271.50" stroke="#cfcfcf" stroke-width="0.6"/>
<line x1="145.82" y1="273.0" x2="145.82" y2="271.50" stroke="#cfcfcf" stroke-width="0.6"/>
<line x1="158.04" y1="273.0" x2="158.04" y2="271.50" stroke="#cfcfcf" stroke-width="0.6"/>
<line x1="170.26" y1="273.0" x2="170.26" y2="271.50" stroke="#cfcfcf" stroke-width="0.6"/>
<line x1="182.48" y1="273.0" x2="182.48" y2="271.50" stroke="#cfcfcf" stroke-width="0.6"/>
<line x1="72.5" y1="189.00" x2="74.0" y2="189.00" stroke="#d5d5d5" stroke-width="0.6"/>
<line x1="72.5" y1="205.80" x2="74.0" y2="205.80" stroke="#d5d5d5" stroke-width="0.6"/>
<line x1="72.5" y1="222.60" x2="74.0" y2="222.60" stroke="#d5d5d5" stroke-width="0.6"/>
<line x1="72.5" y1="239.40" x2="74.0" y2="239.40" stroke="#d5d5d5" stroke-width="0.6"/>
<line x1="72.5" y1="256.20" x2="74.0" y2="256.20" stroke="#d5d5d5" stroke-width="0.6"/>
<path d="M72.60,252.30 L73.10,252.31 L73.60,252.32 L74.10,252.33 L74.60,252.34 L75.10,252.36 L75.60,252.37 L76.11,252.38 L76.61,252.39 L77.11,252.40 L77.61,252.41 L78.11,252.42 L78.61,252.43 L79.11,252.43 L79.61,252.44 L80.11,252.44 L80.61,252.43 L81.11,252.43 L81.61,252.42 L82.12,252.41 L82.62,252.40 L83.12,252.38 L83.62,252.36 L84.12,252.33 L84.62,252.30 L85.12,252.27 L85.62,252.23 L86.12,252.18 L86.62,252.13 L87.12,252.08 L87.62,252.02 L88.13,251.97 L88.63,251.90 L89.13,251.84 L89.63,251.77 L90.13,251.70 L90.63,251.63 L91.13,251.55 L91.63,251.48 L92.13,251.40 L92.63,251.33 L93.13,251.25 L93.63,251.17 L94.14,251.09 L94.64,251.01 L95.14,250.92 L95.64,250.84 L96.14,250.76 L96.64,250.68 L97.14,250.60 L97.64,250.52 L98.14,250.44 L98.64,250.37 L99.14,250.29 L99.64,250.22 L100.15,250.16 L100.65,250.09 L101.15,250.03 L101.65,249.97 L102.15,249.91 L102.65,249.86 L103.15,249.80 L103.65,249.74 L104.15,249.68 L104.65,249.62 L105.15,249.56 L105.65,249.49 L106.15,249.42 L106.66,249.34 L107.16,249.25 L107.66,249.15 L108.16,249.04 L108.66,248.92 L109.16,248.79 L109.66,248.64 L110.16,248.48 L110.66,248.30 L111.16,248.10 L111.66,247.89 L112.16,247.65 L112.67,247.40 L113.17,247.13 L113.67,246.85 L114.17,246.55 L114.67,246.23 L115.17,245.90 L115.67,245.57 L116.17,245.22 L116.67,244.87 L117.17,244.51 L117.67,244.15 L118.17,243.80 L118.68,243.44 L119.18,243.09 L119.68,242.74 L120.18,242.40 L120.68,242.05 L121.18,241.71 L121.68,241.37 L122.18,241.02 L122.68,240.68 L123.18,240.33 L123.68,239.97 L124.18,239.62 L124.69,239.27 L125.19,238.91 L125.69,238.55 L126.19,238.20 L126.69,237.85 L127.19,237.51 L127.69,237.17 L128.19,236.84 L128.69,236.52 L129.19,236.21 L129.69,235.91 L130.19,235.62 L130.70,235.36 L131.20,235.11 L131.70,234.89 L132.20,234.70 L132.70,234.53 L133.20,234.40 L133.70,234.30 L134.20,234.24 L134.70,234.22 L135.20,234.23 L135.70,234.28 L136.20,234.36 L136.70,234.47 L137.21,234.61 L137.71,234.77 L138.21,234.95 L138.71,235.13 L139.21,235.33 L139.71,235.53 L140.21,235.74 L140.71,235.94 L141.21,236.16 L141.71,236.37 L142.21,236.60 L142.71,236.83 L143.22,237.07 L143.72,237.32 L144.22,237.56 L144.72,237.80 L145.22,238.03 L145.72,238.25 L146.22,238.45 L146.72,238.63 L147.22,238.80 L147.72,238.95 L148.22,239.08 L148.72,239.20 L149.23,239.30 L149.73,239.39 L150.23,239.48 L150.73,239.55 L151.23,239.62 L151.73,239.68 L152.23,239.74 L152.73,239.79 L153.23,239.84 L153.73,239.89 L154.23,239.93 L154.73,239.97 L155.24,240.01 L155.74,240.04 L156.24,240.07 L156.74,240.10 L157.24,240.13 L157.74,240.15 L158.24,240.18 L158.74,240.20 L159.24,240.22 L159.74,240.24 L160.24,240.25 L160.74,240.26 L161.25,240.27 L161.75,240.28 L162.25,240.29 L162.75,240.29 L163.25,240.30 L163.75,240.29 L164.25,240.29 L164.75,240.28 L165.25,240.28 L165.75,240.26 L166.25,240.25 L166.75,240.22 L167.25,240.20 L167.76,240.17 L168.26,240.14 L168.76,240.11 L169.26,240.07 L169.76,240.03 L170.26,239.99 L170.76,239.94 L171.26,239.89 L171.76,239.84 L172.26,239.79 L172.76,239.74 L173.26,239.69 L173.77,239.63 L174.27,239.58 L174.77,239.52 L175.27,239.47 L175.77,239.41 L176.27,239.36 L176.77,239.30 L177.27,239.25 L177.77,239.20 L178.27,239.14 L178.77,239.09 L179.27,239.05 L179.78,239.00 L180.28,238.95 L180.78,238.91 L181.28,238.87 L181.78,238.83 L182.28,238.79 L182.78,238.75 L183.28,238.71 L183.78,238.67 L184.28,238.64 L184.78,238.60 L185.28,238.56 L185.79,238.53 L186.29,238.49 L186.79,238.45 L187.29,238.42 L187.79,238.38 L188.29,238.35 L188.79,238.31 L189.29,238.28 L189.79,238.24 L190.29,238.21 L190.79,238.18 L191.29,238.14 L191.80,238.11 L192.30,238.07 L192.80,238.04 L193.30,238.00 L193.80,237.97 L194.30,237.93 L194.80,237.90" fill="none" stroke="#1a1a1a" stroke-width="1.0"/>
<path d="M72.60,262.30 L73.10,261.88 L73.60,261.46 L74.10,261.04 L74.60,260.62 L75.10,260.20 L75.60,259.78 L76.11,259.36 L76.61,258.94 L77.11,258.52 L77.61,258.10 L78.11,257.68 L78.61,257.26 L79.11,256.84 L79.61,256.42 L80.11,255.99 L80.61,255.57 L81.11,255.16 L81.61,254.74 L82.12,254.32 L82.62,253.90 L83.12,253.48 L83.62,253.06 L84.12,252.64 L84.62,252.21 L85.12,251.79 L85.62,251.37 L86.12,250.95 L86.62,250.52 L87.12,250.09 L87.62,249.67 L88.13,249.24 L88.63,248.81 L89.13,248.38 L89.63,247.95 L90.13,247.52 L90.63,247.10 L91.13,246.67 L91.63,246.24 L92.13,245.82 L92.63,245.40 L93.13,244.98 L93.63,244.57 L94.14,244.16 L94.64,243.76 L95.14,243.36 L95.64,242.97 L96.14,242.59 L96.64,242.22 L97.14,241.86 L97.64,241.51 L98.14,241.18 L98.64,240.85 L99.14,240.54 L99.64,240.24 L100.15,239.95 L100.65,239.67 L101.15,239.39 L101.65,239.13 L102.15,238.86 L102.65,238.59 L103.15,238.32 L103.65,238.05 L104.15,237.78 L104.65,237.50 L105.15,237.22 L105.65,236.94 L106.15,236.67 L106.66,236.39 L107.16,236.12 L107.66,235.84 L108.16,235.56 L108.66,235.26 L109.16,234.95 L109.66,234.62 L110.16,234.27 L110.66,233.88 L111.16,233.45 L111.66,232.99 L112.16,232.48 L112.67,231.92 L113.17,231.32 L113.67,230.68 L114.17,229.99 L114.67,229.26 L115.17,228.49 L115.67,227.68 L116.17,226.85 L116.67,225.99 L117.17,225.10 L117.67,224.19 L118.17,223.26 L118.68,222.31 L119.18,221.34 L119.68,220.35 L120.18,219.33 L120.68,218.29 L121.18,217.22 L121.68,216.12 L122.18,214.99 L122.68,213.83 L123.18,212.65 L123.68,211.45 L124.18,210.26 L124.69,209.08 L125.19,207.94 L125.69,206.84 L126.19,205.79 L126.69,204.82 L127.19,203.92 L127.69,203.10 L128.19,202.36 L128.69,201.70 L129.19,201.13 L129.69,200.63 L130.19,200.21 L130.70,199.87 L131.20,199.61 L131.70,199.43 L132.20,199.32 L132.70,199.30 L133.20,199.36 L133.70,199.50 L134.20,199.73 L134.70,200.04 L135.20,200.43 L135.70,200.91 L136.20,201.46 L136.70,202.10 L137.21,202.80 L137.71,203.57 L138.21,204.40 L138.71,205.28 L139.21,206.21 L139.71,207.17 L140.21,208.17 L140.71,209.20 L141.21,210.24 L141.71,211.31 L142.21,212.38 L142.71,213.48 L143.22,214.58 L143.72,215.71 L144.22,216.85 L144.72,218.02 L145.22,219.20 L145.72,220.41 L146.22,221.62 L146.72,222.84 L147.22,224.05 L147.72,225.23 L148.22,226.39 L148.72,227.50 L149.23,228.56 L149.73,229.56 L150.23,230.49 L150.73,231.36 L151.23,232.16 L151.73,232.89 L152.23,233.57 L152.73,234.19 L153.23,234.76 L153.73,235.28 L154.23,235.76 L154.73,236.21 L155.24,236.62 L155.74,236.99 L156.24,237.34 L156.74,237.66 L157.24,237.96 L157.74,238.24 L158.24,238.49 L158.74,238.73 L159.24,238.94 L159.74,239.14 L160.24,239.31 L160.74,239.47 L161.25,239.60 L161.75,239.72 L162.25,239.82 L162.75,239.91 L163.25,239.98 L163.75,240.04 L164.25,240.09 L164.75,240.13 L165.25,240.17 L165.75,240.19 L166.25,240.22 L166.75,240.24 L167.25,240.25 L167.76,240.27 L168.26,240.28 L168.76,240.29 L169.26,240.30 L169.76,240.30 L170.26,240.30 L170.76,240.30 L171.26,240.30 L171.76,240.29 L172.26,240.28 L172.76,240.26 L173.26,240.24 L173.77,240.22 L174.27,240.19 L174.77,240.16 L175.27,240.12 L175.77,240.08 L176.27,240.04 L176.77,239.99 L177.27,239.94 L177.77,239.89 L178.27,239.83 L178.77,239.77 L179.27,239.70 L179.78,239.63 L180.28,239.56 L180.78,239.48 L181.28,239.40 L181.78,239.31 L182.28,239.22 L182.78,239.13 L183.28,239.03 L183.78,238.93 L184.28,238.82 L184.78,238.72 L185.28,238.61 L185.79,238.49 L186.29,238.38 L186.79,238.26 L187.29,238.15 L187.79,238.03 L188.29,237.91 L188.79,237.78 L189.29,237.66 L189.79,237.54 L190.29,237.42 L190.79,237.29 L191.29,237.17 L191.80,237.04 L192.30,236.92 L192.80,236.79 L193.30,236.67 L193.80,236.55 L194.30,236.42 L194.80,236.30" fill="none" stroke="#ff1a1a" stroke-width="1.0"/>
<rect x="72.5" y="172.2" width="122.20" height="100.80" fill="none" stroke="#bdbdbd" stroke-width="0.9"/>
<text x="69.90" y="176.00" font-size="8.7" text-anchor="end" fill="#000">0.04</text>
<text x="69.90" y="209.60" font-size="8.7" text-anchor="end" fill="#000">0.02</text>
<text x="69.90" y="243.20" font-size="8.7" text-anchor="end" fill="#000">0</text>
<text x="69.90" y="276.80" font-size="8.7" text-anchor="end" fill="#000">-0.02</text>
<text x="72.50" y="285.00" font-size="8.7" text-anchor="middle" fill="#000">400</text>
<text x="133.60" y="285.00" font-size="8.7" text-anchor="middle" fill="#000">450</text>
<text x="194.70" y="285.00" font-size="8.7" text-anchor="middle" fill="#000">500</text>
<text x="133.60" y="296.30" font-size="9" text-anchor="middle" fill="#000" textLength="68.3" lengthAdjust="spacingAndGlyphs">Wavelength (nm)</text>
<text transform="translate(47.30,224.10) rotate(-90)" x="0" y="0" font-size="9" text-anchor="middle" fill="#000" textLength="47.4" lengthAdjust="spacingAndGlyphs">Absorbance</text>
<line x1="246.6" y1="220.95" x2="366.6" y2="220.95" stroke="#e3e3e3" stroke-width="0.8"/>
<line x1="258.60" y1="270.4" x2="258.60" y2="268.90" stroke="#cfcfcf" stroke-width="0.6"/>
<line x1="270.60" y1="270.4" x2="270.60" y2="268.90" stroke="#cfcfcf" stroke-width="0.6"/>
<line x1="282.60" y1="270.4" x2="282.60" y2="268.90" stroke="#cfcfcf" stroke-width="0.6"/>
<line x1="294.60" y1="270.4" x2="294.60" y2="268.90" stroke="#cfcfcf" stroke-width="0.6"/>
<line x1="306.60" y1="270.4" x2="306.60" y2="268.90" stroke="#cfcfcf" stroke-width="0.6"/>
<line x1="318.60" y1="270.4" x2="318.60" y2="268.90" stroke="#cfcfcf" stroke-width="0.6"/>
<line x1="330.60" y1="270.4" x2="330.60" y2="268.90" stroke="#cfcfcf" stroke-width="0.6"/>
<line x1="342.60" y1="270.4" x2="342.60" y2="268.90" stroke="#cfcfcf" stroke-width="0.6"/>
<line x1="354.60" y1="270.4" x2="354.60" y2="268.90" stroke="#cfcfcf" stroke-width="0.6"/>
<line x1="246.6" y1="187.98" x2="248.1" y2="187.98" stroke="#d5d5d5" stroke-width="0.6"/>
<line x1="246.6" y1="204.47" x2="248.1" y2="204.47" stroke="#d5d5d5" stroke-width="0.6"/>
<line x1="246.6" y1="220.95" x2="248.1" y2="220.95" stroke="#d5d5d5" stroke-width="0.6"/>
<line x1="246.6" y1="237.43" x2="248.1" y2="237.43" stroke="#d5d5d5" stroke-width="0.6"/>
<line x1="246.6" y1="253.92" x2="248.1" y2="253.92" stroke="#d5d5d5" stroke-width="0.6"/>
<path d="M247.00,227.90 L247.50,227.93 L248.00,227.97 L248.50,228.01 L249.00,228.04 L249.50,228.08 L250.00,228.11 L250.50,228.15 L251.00,228.19 L251.50,228.23 L252.00,228.26 L252.50,228.30 L253.00,228.34 L253.50,228.37 L254.00,228.41 L254.50,228.44 L255.00,228.48 L255.50,228.51 L256.00,228.54 L256.50,228.58 L257.00,228.61 L257.50,228.64 L258.00,228.67 L258.50,228.70 L259.01,228.72 L259.51,228.75 L260.01,228.77 L260.51,228.80 L261.01,228.82 L261.51,228.83 L262.01,228.85 L262.51,228.86 L263.01,228.87 L263.51,228.88 L264.01,228.88 L264.51,228.88 L265.01,228.87 L265.51,228.86 L266.01,228.85 L266.51,228.83 L267.01,228.81 L267.51,228.79 L268.01,228.76 L268.51,228.72 L269.01,228.69 L269.51,228.64 L270.01,228.60 L270.51,228.55 L271.01,228.50 L271.51,228.45 L272.01,228.39 L272.51,228.33 L273.01,228.27 L273.51,228.21 L274.01,228.15 L274.51,228.09 L275.01,228.03 L275.51,227.97 L276.01,227.91 L276.51,227.85 L277.01,227.79 L277.51,227.73 L278.01,227.68 L278.51,227.62 L279.01,227.57 L279.51,227.51 L280.01,227.46 L280.51,227.40 L281.01,227.34 L281.51,227.28 L282.01,227.21 L282.51,227.14 L283.02,227.07 L283.52,226.99 L284.02,226.90 L284.52,226.80 L285.02,226.69 L285.52,226.57 L286.02,226.44 L286.52,226.29 L287.02,226.12 L287.52,225.94 L288.02,225.73 L288.52,225.50 L289.02,225.24 L289.52,224.96 L290.02,224.65 L290.52,224.31 L291.02,223.95 L291.52,223.57 L292.02,223.17 L292.52,222.75 L293.02,222.33 L293.52,221.90 L294.02,221.48 L294.52,221.05 L295.02,220.64 L295.52,220.22 L296.02,219.81 L296.52,219.39 L297.02,218.98 L297.52,218.56 L298.02,218.14 L298.52,217.72 L299.02,217.29 L299.52,216.87 L300.02,216.44 L300.52,216.01 L301.02,215.58 L301.52,215.15 L302.02,214.73 L302.52,214.31 L303.02,213.90 L303.52,213.49 L304.02,213.10 L304.52,212.71 L305.02,212.33 L305.52,211.97 L306.02,211.62 L306.52,211.29 L307.03,210.99 L307.53,210.71 L308.03,210.47 L308.53,210.27 L309.03,210.10 L309.53,209.99 L310.03,209.94 L310.53,209.95 L311.03,210.02 L311.53,210.15 L312.03,210.34 L312.53,210.59 L313.03,210.88 L313.53,211.20 L314.03,211.55 L314.53,211.90 L315.03,212.26 L315.53,212.61 L316.03,212.96 L316.53,213.31 L317.03,213.65 L317.53,214.00 L318.03,214.36 L318.53,214.72 L319.03,215.08 L319.53,215.45 L320.03,215.82 L320.53,216.19 L321.03,216.56 L321.53,216.93 L322.03,217.29 L322.53,217.65 L323.03,218.00 L323.53,218.35 L324.03,218.68 L324.53,219.01 L325.03,219.32 L325.53,219.62 L326.03,219.90 L326.53,220.17 L327.03,220.41 L327.53,220.64 L328.03,220.85 L328.53,221.05 L329.03,221.22 L329.53,221.38 L330.03,221.52 L330.53,221.65 L331.04,221.76 L331.54,221.86 L332.04,221.94 L332.54,222.02 L333.04,222.08 L333.54,222.14 L334.04,222.19 L334.54,222.23 L335.04,222.26 L335.54,222.29 L336.04,222.32 L336.54,222.35 L337.04,222.37 L337.54,222.39 L338.04,222.41 L338.54,222.44 L339.04,222.46 L339.54,222.48 L340.04,222.51 L340.54,222.53 L341.04,222.55 L341.54,222.58 L342.04,222.60 L342.54,222.62 L343.04,222.63 L343.54,222.65 L344.04,222.66 L344.54,222.67 L345.04,222.68 L345.54,222.68 L346.04,222.69 L346.54,222.69 L347.04,222.69 L347.54,222.69 L348.04,222.68 L348.54,222.68 L349.04,222.67 L349.54,222.66 L350.04,222.65 L350.54,222.63 L351.04,222.62 L351.54,222.60 L352.04,222.58 L352.54,222.55 L353.04,222.53 L353.54,222.50 L354.04,222.47 L354.54,222.43 L355.05,222.39 L355.55,222.35 L356.05,222.30 L356.55,222.25 L357.05,222.20 L357.55,222.15 L358.05,222.09 L358.55,222.03 L359.05,221.97 L359.55,221.91 L360.05,221.84 L360.55,221.78 L361.05,221.71 L361.55,221.64 L362.05,221.57 L362.55,221.50 L363.05,221.43 L363.55,221.36 L364.05,221.29 L364.55,221.22 L365.05,221.15 L365.55,221.07 L366.05,221.00 L366.55,220.93 L366.80,220.90" fill="none" stroke="#1a1a1a" stroke-width="1.0"/>
<path d="M247.00,249.91 L247.50,249.20 L248.00,248.50 L248.50,247.80 L249.00,247.10 L249.50,246.41 L250.00,245.74 L250.50,245.07 L251.00,244.43 L251.50,243.80 L252.00,243.20 L252.50,242.62 L253.00,242.07 L253.50,241.55 L254.00,241.06 L254.50,240.59 L255.00,240.15 L255.50,239.74 L256.00,239.34 L256.50,238.97 L257.00,238.61 L257.50,238.26 L258.00,237.93 L258.50,237.60 L259.01,237.27 L259.51,236.95 L260.01,236.62 L260.51,236.30 L261.01,235.97 L261.51,235.63 L262.01,235.29 L262.51,234.94 L263.01,234.58 L263.51,234.21 L264.01,233.83 L264.51,233.44 L265.01,233.04 L265.51,232.63 L266.01,232.21 L266.51,231.79 L267.01,231.35 L267.51,230.92 L268.01,230.48 L268.51,230.04 L269.01,229.59 L269.51,229.15 L270.01,228.71 L270.51,228.27 L271.01,227.83 L271.51,227.40 L272.01,226.98 L272.51,226.56 L273.01,226.15 L273.51,225.76 L274.01,225.38 L274.51,225.01 L275.01,224.67 L275.51,224.35 L276.01,224.07 L276.51,223.81 L277.01,223.59 L277.51,223.40 L278.01,223.24 L278.51,223.11 L279.01,223.01 L279.51,222.93 L280.01,222.86 L280.51,222.79 L281.01,222.71 L281.51,222.61 L282.01,222.49 L282.51,222.33 L283.02,222.13 L283.52,221.89 L284.02,221.61 L284.52,221.29 L285.02,220.93 L285.52,220.53 L286.02,220.11 L286.52,219.65 L287.02,219.16 L287.52,218.65 L288.02,218.10 L288.52,217.52 L289.02,216.91 L289.52,216.26 L290.02,215.58 L290.52,214.85 L291.02,214.08 L291.52,213.27 L292.02,212.40 L292.52,211.48 L293.02,210.50 L293.52,209.48 L294.02,208.41 L294.52,207.29 L295.02,206.15 L295.52,204.98 L296.02,203.80 L296.52,202.62 L297.02,201.44 L297.52,200.28 L298.02,199.15 L298.52,198.04 L299.02,196.96 L299.52,195.92 L300.02,194.90 L300.52,193.91 L301.02,192.94 L301.52,191.99 L302.02,191.05 L302.52,190.13 L303.02,189.23 L303.52,188.35 L304.02,187.49 L304.52,186.66 L305.02,185.86 L305.52,185.10 L306.02,184.38 L306.52,183.71 L307.03,183.11 L307.53,182.59 L308.03,182.14 L308.53,181.80 L309.03,181.56 L309.53,181.43 L310.03,181.43 L310.53,181.56 L311.03,181.82 L311.53,182.21 L312.03,182.71 L312.53,183.32 L313.03,184.01 L313.53,184.79 L314.03,185.62 L314.53,186.51 L315.03,187.45 L315.53,188.44 L316.03,189.47 L316.53,190.54 L317.03,191.66 L317.53,192.81 L318.03,193.98 L318.53,195.16 L319.03,196.35 L319.53,197.54 L320.03,198.70 L320.53,199.84 L321.03,200.95 L321.53,202.02 L322.03,203.05 L322.53,204.04 L323.03,204.98 L323.53,205.88 L324.03,206.74 L324.53,207.55 L325.03,208.31 L325.53,209.02 L326.03,209.68 L326.53,210.29 L327.03,210.85 L327.53,211.36 L328.03,211.84 L328.53,212.28 L329.03,212.68 L329.53,213.06 L330.03,213.41 L330.53,213.74 L331.04,214.05 L331.54,214.34 L332.04,214.62 L332.54,214.88 L333.04,215.14 L333.54,215.38 L334.04,215.62 L334.54,215.85 L335.04,216.07 L335.54,216.29 L336.04,216.51 L336.54,216.72 L337.04,216.93 L337.54,217.14 L338.04,217.34 L338.54,217.55 L339.04,217.75 L339.54,217.94 L340.04,218.13 L340.54,218.32 L341.04,218.51 L341.54,218.70 L342.04,218.88 L342.54,219.06 L343.04,219.23 L343.54,219.40 L344.04,219.58 L344.54,219.74 L345.04,219.91 L345.54,220.07 L346.04,220.24 L346.54,220.39 L347.04,220.55 L347.54,220.70 L348.04,220.86 L348.54,221.00 L349.04,221.15 L349.54,221.29 L350.04,221.43 L350.54,221.56 L351.04,221.68 L351.54,221.80 L352.04,221.92 L352.54,222.02 L353.04,222.12 L353.54,222.21 L354.04,222.29 L354.54,222.36 L355.05,222.41 L355.55,222.46 L356.05,222.49 L356.55,222.52 L357.05,222.53 L357.55,222.54 L358.05,222.53 L358.55,222.52 L359.05,222.50 L359.55,222.48 L360.05,222.44 L360.55,222.40 L361.05,222.34 L361.55,222.28 L362.05,222.21 L362.55,222.14 L363.05,222.05 L363.55,221.96 L364.05,221.87 L364.55,221.77 L365.05,221.67 L365.55,221.56 L366.05,221.46 L366.55,221.35 L366.80,221.30" fill="none" stroke="#ff1a1a" stroke-width="1.0"/>
<rect x="246.6" y="171.5" width="120.00" height="98.90" fill="none" stroke="#bdbdbd" stroke-width="0.9"/>
<text x="244.00" y="175.30" font-size="8.7" text-anchor="end" fill="#000">0.03</text>
<text x="244.00" y="224.75" font-size="8.7" text-anchor="end" fill="#000">0</text>
<text x="244.00" y="274.20" font-size="8.7" text-anchor="end" fill="#000">-0.03</text>
<text x="246.60" y="282.40" font-size="8.7" text-anchor="middle" fill="#000">400</text>
<text x="306.60" y="282.40" font-size="8.7" text-anchor="middle" fill="#000">450</text>
<text x="366.60" y="282.40" font-size="8.7" text-anchor="middle" fill="#000">500</text>
<text x="306.60" y="293.70" font-size="9" text-anchor="middle" fill="#000" textLength="68.3" lengthAdjust="spacingAndGlyphs">Wavelength (nm)</text>
<text transform="translate(221.40,222.45) rotate(-90)" x="0" y="0" font-size="9" text-anchor="middle" fill="#000" textLength="47.4" lengthAdjust="spacingAndGlyphs">Absorbance</text>
<line x1="417.8" y1="232.24" x2="539.6" y2="232.24" stroke="#e3e3e3" stroke-width="0.8"/>
<line x1="429.98" y1="272.4" x2="429.98" y2="270.90" stroke="#cfcfcf" stroke-width="0.6"/>
<line x1="442.16" y1="272.4" x2="442.16" y2="270.90" stroke="#cfcfcf" stroke-width="0.6"/>
<line x1="454.34" y1="272.4" x2="454.34" y2="270.90" stroke="#cfcfcf" stroke-width="0.6"/>
<line x1="466.52" y1="272.4" x2="466.52" y2="270.90" stroke="#cfcfcf" stroke-width="0.6"/>
<line x1="478.70" y1="272.4" x2="478.70" y2="270.90" stroke="#cfcfcf" stroke-width="0.6"/>
<line x1="490.88" y1="272.4" x2="490.88" y2="270.90" stroke="#cfcfcf" stroke-width="0.6"/>
<line x1="503.06" y1="272.4" x2="503.06" y2="270.90" stroke="#cfcfcf" stroke-width="0.6"/>
<line x1="515.24" y1="272.4" x2="515.24" y2="270.90" stroke="#cfcfcf" stroke-width="0.6"/>
<line x1="527.42" y1="272.4" x2="527.42" y2="270.90" stroke="#cfcfcf" stroke-width="0.6"/>
<line x1="417.8" y1="182.04" x2="419.3" y2="182.04" stroke="#d5d5d5" stroke-width="0.6"/>
<line x1="417.8" y1="192.08" x2="419.3" y2="192.08" stroke="#d5d5d5" stroke-width="0.6"/>
<line x1="417.8" y1="202.12" x2="419.3" y2="202.12" stroke="#d5d5d5" stroke-width="0.6"/>
<line x1="417.8" y1="212.16" x2="419.3" y2="212.16" stroke="#d5d5d5" stroke-width="0.6"/>
<line x1="417.8" y1="222.20" x2="419.3" y2="222.20" stroke="#d5d5d5" stroke-width="0.6"/>
<line x1="417.8" y1="232.24" x2="419.3" y2="232.24" stroke="#d5d5d5" stroke-width="0.6"/>
<line x1="417.8" y1="242.28" x2="419.3" y2="242.28" stroke="#d5d5d5" stroke-width="0.6"/>
<line x1="417.8" y1="252.32" x2="419.3" y2="252.32" stroke="#d5d5d5" stroke-width="0.6"/>
<line x1="417.8" y1="262.36" x2="419.3" y2="262.36" stroke="#d5d5d5" stroke-width="0.6"/>
<path d="M418.00,238.30 L418.50,238.32 L419.00,238.35 L419.50,238.38 L420.00,238.41 L420.50,238.44 L421.00,238.47 L421.50,238.50 L422.00,238.52 L422.50,238.55 L423.00,238.58 L423.50,238.60 L424.00,238.62 L424.50,238.63 L425.00,238.65 L425.50,238.65 L426.00,238.66 L426.50,238.66 L427.00,238.65 L427.50,238.64 L428.00,238.62 L428.50,238.59 L429.00,238.55 L429.50,238.50 L430.00,238.44 L430.51,238.38 L431.01,238.30 L431.51,238.22 L432.01,238.12 L432.51,238.02 L433.01,237.91 L433.51,237.79 L434.01,237.67 L434.51,237.54 L435.01,237.40 L435.51,237.26 L436.01,237.12 L436.51,236.97 L437.01,236.82 L437.51,236.67 L438.01,236.52 L438.51,236.37 L439.01,236.21 L439.51,236.06 L440.01,235.90 L440.51,235.75 L441.01,235.60 L441.51,235.45 L442.01,235.31 L442.51,235.16 L443.01,235.02 L443.51,234.87 L444.01,234.73 L444.51,234.58 L445.01,234.44 L445.51,234.29 L446.01,234.15 L446.51,234.00 L447.01,233.85 L447.51,233.70 L448.01,233.54 L448.51,233.39 L449.01,233.23 L449.51,233.07 L450.01,232.91 L450.51,232.75 L451.01,232.59 L451.51,232.42 L452.01,232.26 L452.51,232.09 L453.01,231.93 L453.51,231.76 L454.01,231.59 L454.51,231.42 L455.02,231.25 L455.52,231.08 L456.02,230.91 L456.52,230.74 L457.02,230.57 L457.52,230.39 L458.02,230.21 L458.52,230.03 L459.02,229.85 L459.52,229.66 L460.02,229.48 L460.52,229.28 L461.02,229.09 L461.52,228.89 L462.02,228.68 L462.52,228.47 L463.02,228.25 L463.52,228.03 L464.02,227.79 L464.52,227.55 L465.02,227.29 L465.52,227.03 L466.02,226.76 L466.52,226.48 L467.02,226.19 L467.52,225.89 L468.02,225.59 L468.52,225.29 L469.02,224.98 L469.52,224.67 L470.02,224.37 L470.52,224.07 L471.02,223.78 L471.52,223.49 L472.02,223.21 L472.52,222.94 L473.02,222.69 L473.52,222.46 L474.02,222.24 L474.52,222.05 L475.02,221.89 L475.52,221.75 L476.02,221.65 L476.52,221.58 L477.02,221.54 L477.52,221.54 L478.02,221.58 L478.52,221.65 L479.03,221.76 L479.53,221.90 L480.03,222.07 L480.53,222.26 L481.03,222.48 L481.53,222.71 L482.03,222.95 L482.53,223.20 L483.03,223.46 L483.53,223.73 L484.03,223.99 L484.53,224.27 L485.03,224.55 L485.53,224.84 L486.03,225.14 L486.53,225.45 L487.03,225.76 L487.53,226.08 L488.03,226.41 L488.53,226.73 L489.03,227.06 L489.53,227.38 L490.03,227.70 L490.53,228.01 L491.03,228.32 L491.53,228.61 L492.03,228.89 L492.53,229.16 L493.03,229.42 L493.53,229.67 L494.03,229.90 L494.53,230.12 L495.03,230.32 L495.53,230.52 L496.03,230.71 L496.53,230.88 L497.03,231.05 L497.53,231.20 L498.03,231.34 L498.53,231.47 L499.03,231.59 L499.53,231.70 L500.03,231.80 L500.53,231.88 L501.03,231.96 L501.53,232.03 L502.03,232.09 L502.53,232.15 L503.03,232.20 L503.54,232.25 L504.04,232.29 L504.54,232.32 L505.04,232.35 L505.54,232.38 L506.04,232.40 L506.54,232.42 L507.04,232.43 L507.54,232.45 L508.04,232.45 L508.54,232.46 L509.04,232.47 L509.54,232.47 L510.04,232.47 L510.54,232.47 L511.04,232.47 L511.54,232.47 L512.04,232.46 L512.54,232.46 L513.04,232.45 L513.54,232.45 L514.04,232.44 L514.54,232.43 L515.04,232.42 L515.54,232.42 L516.04,232.41 L516.54,232.40 L517.04,232.39 L517.54,232.38 L518.04,232.37 L518.54,232.36 L519.04,232.35 L519.54,232.35 L520.04,232.34 L520.54,232.33 L521.04,232.33 L521.54,232.32 L522.04,232.31 L522.54,232.31 L523.04,232.31 L523.54,232.30 L524.04,232.30 L524.54,232.30 L525.04,232.30 L525.54,232.30 L526.04,232.30 L526.54,232.30 L527.04,232.30 L527.54,232.30 L528.05,232.30 L528.55,232.30 L529.05,232.30 L529.55,232.30 L530.05,232.30 L530.55,232.30 L531.05,232.30 L531.55,232.30 L532.05,232.30 L532.55,232.30 L533.05,232.30 L533.55,232.30 L534.05,232.30 L534.55,232.30 L535.05,232.30 L535.55,232.30 L536.05,232.30 L536.55,232.30 L537.05,232.30 L537.55,232.30 L538.05,232.30 L538.55,232.30 L539.05,232.30 L539.55,232.30 L539.80,232.30" fill="none" stroke="#1a1a1a" stroke-width="1.0"/>
<path d="M418.00,262.50 L418.50,262.41 L419.00,262.33 L419.50,262.24 L420.00,262.15 L420.50,262.06 L421.00,261.97 L421.50,261.87 L422.00,261.77 L422.50,261.65 L423.00,261.52 L423.50,261.38 L424.00,261.22 L424.50,261.04 L425.00,260.84 L425.50,260.61 L426.00,260.37 L426.50,260.10 L427.00,259.81 L427.50,259.50 L428.00,259.16 L428.50,258.81 L429.00,258.43 L429.50,258.04 L430.00,257.63 L430.51,257.20 L431.01,256.76 L431.51,256.31 L432.01,255.84 L432.51,255.35 L433.01,254.86 L433.51,254.35 L434.01,253.83 L434.51,253.30 L435.01,252.76 L435.51,252.20 L436.01,251.64 L436.51,251.06 L437.01,250.48 L437.51,249.88 L438.01,249.28 L438.51,248.68 L439.01,248.07 L439.51,247.45 L440.01,246.83 L440.51,246.22 L441.01,245.60 L441.51,244.98 L442.01,244.36 L442.51,243.74 L443.01,243.13 L443.51,242.52 L444.01,241.92 L444.51,241.32 L445.01,240.73 L445.51,240.14 L446.01,239.56 L446.51,238.98 L447.01,238.40 L447.51,237.81 L448.01,237.22 L448.51,236.62 L449.01,236.02 L449.51,235.40 L450.01,234.76 L450.51,234.11 L451.01,233.44 L451.51,232.76 L452.01,232.06 L452.51,231.34 L453.01,230.60 L453.51,229.86 L454.01,229.10 L454.51,228.32 L455.02,227.53 L455.52,226.72 L456.02,225.89 L456.52,225.05 L457.02,224.19 L457.52,223.30 L458.02,222.39 L458.52,221.44 L459.02,220.47 L459.52,219.46 L460.02,218.41 L460.52,217.32 L461.02,216.19 L461.52,215.01 L462.02,213.81 L462.52,212.57 L463.02,211.31 L463.52,210.05 L464.02,208.79 L464.52,207.54 L465.02,206.32 L465.52,205.14 L466.02,204.00 L466.52,202.91 L467.02,201.87 L467.52,200.90 L468.02,199.97 L468.52,199.10 L469.02,198.29 L469.52,197.51 L470.02,196.78 L470.52,196.09 L471.02,195.44 L471.52,194.84 L472.02,194.28 L472.52,193.76 L473.02,193.30 L473.52,192.90 L474.02,192.55 L474.52,192.26 L475.02,192.05 L475.52,191.91 L476.02,191.84 L476.52,191.86 L477.02,191.96 L477.52,192.14 L478.02,192.40 L478.52,192.75 L479.03,193.17 L479.53,193.67 L480.03,194.23 L480.53,194.84 L481.03,195.51 L481.53,196.22 L482.03,196.97 L482.53,197.76 L483.03,198.57 L483.53,199.42 L484.03,200.30 L484.53,201.22 L485.03,202.17 L485.53,203.17 L486.03,204.19 L486.53,205.25 L487.03,206.33 L487.53,207.44 L488.03,208.55 L488.53,209.67 L489.03,210.78 L489.53,211.88 L490.03,212.95 L490.53,214.01 L491.03,215.03 L491.53,216.02 L492.03,216.99 L492.53,217.92 L493.03,218.83 L493.53,219.72 L494.03,220.58 L494.53,221.42 L495.03,222.24 L495.53,223.04 L496.03,223.81 L496.53,224.55 L497.03,225.26 L497.53,225.95 L498.03,226.60 L498.53,227.21 L499.03,227.78 L499.53,228.32 L500.03,228.81 L500.53,229.27 L501.03,229.68 L501.53,230.05 L502.03,230.39 L502.53,230.69 L503.03,230.95 L503.54,231.19 L504.04,231.40 L504.54,231.59 L505.04,231.75 L505.54,231.90 L506.04,232.04 L506.54,232.17 L507.04,232.28 L507.54,232.39 L508.04,232.48 L508.54,232.57 L509.04,232.65 L509.54,232.72 L510.04,232.78 L510.54,232.83 L511.04,232.87 L511.54,232.90 L512.04,232.92 L512.54,232.93 L513.04,232.94 L513.54,232.95 L514.04,232.95 L514.54,232.95 L515.04,232.94 L515.54,232.93 L516.04,232.93 L516.54,232.92 L517.04,232.91 L517.54,232.90 L518.04,232.89 L518.54,232.87 L519.04,232.86 L519.54,232.84 L520.04,232.82 L520.54,232.80 L521.04,232.78 L521.54,232.75 L522.04,232.73 L522.54,232.70 L523.04,232.67 L523.54,232.64 L524.04,232.61 L524.54,232.58 L525.04,232.55 L525.54,232.52 L526.04,232.49 L526.54,232.46 L527.04,232.43 L527.54,232.40 L528.05,232.38 L528.55,232.36 L529.05,232.34 L529.55,232.32 L530.05,232.31 L530.55,232.29 L531.05,232.28 L531.55,232.28 L532.05,232.27 L532.55,232.27 L533.05,232.26 L533.55,232.26 L534.05,232.26 L534.55,232.26 L535.05,232.26 L535.55,232.27 L536.05,232.27 L536.55,232.27 L537.05,232.28 L537.55,232.28 L538.05,232.29 L538.55,232.29 L539.05,232.29 L539.55,232.30 L539.80,232.30" fill="none" stroke="#ff1a1a" stroke-width="1.0"/>
<rect x="417.8" y="172.0" width="121.80" height="100.40" fill="none" stroke="#bdbdbd" stroke-width="0.9"/>
<text x="414.40" y="175.80" font-size="8.7" text-anchor="end" fill="#000">0.06</text>
<text x="414.40" y="236.04" font-size="8.7" text-anchor="end" fill="#000">0</text>
<text x="414.40" y="276.20" font-size="8.7" text-anchor="end" fill="#000">-0.04</text>
<text x="417.80" y="284.40" font-size="8.7" text-anchor="middle" fill="#000">400</text>
<text x="478.70" y="284.40" font-size="8.7" text-anchor="middle" fill="#000">450</text>
<text x="539.60" y="284.40" font-size="8.7" text-anchor="middle" fill="#000">500</text>
<text x="478.70" y="295.70" font-size="9" text-anchor="middle" fill="#000" textLength="68.3" lengthAdjust="spacingAndGlyphs">Wavelength (nm)</text>
<text transform="translate(390.60,223.70) rotate(-90)" x="0" y="0" font-size="9" text-anchor="middle" fill="#000" textLength="47.4" lengthAdjust="spacingAndGlyphs">Absorbance</text>
<text x="0.90" y="326.00" font-size="16" text-anchor="start" fill="#000" textLength="29.2" lengthAdjust="spacingAndGlyphs" style="stroke-width:0.1px">72 h</text>
<line x1="72.5" y1="375.93" x2="194.7" y2="375.93" stroke="#e3e3e3" stroke-width="0.8"/>
<line x1="84.72" y1="409.4" x2="84.72" y2="407.90" stroke="#cfcfcf" stroke-width="0.6"/>
<line x1="96.94" y1="409.4" x2="96.94" y2="407.90" stroke="#cfcfcf" stroke-width="0.6"/>
<line x1="109.16" y1="409.4" x2="109.16" y2="407.90" stroke="#cfcfcf" stroke-width="0.6"/>
<line x1="121.38" y1="409.4" x2="121.38" y2="407.90" stroke="#cfcfcf" stroke-width="0.6"/>
<line x1="133.60" y1="409.4" x2="133.60" y2="407.90" stroke="#cfcfcf" stroke-width="0.6"/>
<line x1="145.82" y1="409.4" x2="145.82" y2="407.90" stroke="#cfcfcf" stroke-width="0.6"/>
<line x1="158.04" y1="409.4" x2="158.04" y2="407.90" stroke="#cfcfcf" stroke-width="0.6"/>
<line x1="170.26" y1="409.4" x2="170.26" y2="407.90" stroke="#cfcfcf" stroke-width="0.6"/>
<line x1="182.48" y1="409.4" x2="182.48" y2="407.90" stroke="#cfcfcf" stroke-width="0.6"/>
<line x1="72.5" y1="325.73" x2="74.0" y2="325.73" stroke="#d5d5d5" stroke-width="0.6"/>
<line x1="72.5" y1="342.47" x2="74.0" y2="342.47" stroke="#d5d5d5" stroke-width="0.6"/>
<line x1="72.5" y1="359.20" x2="74.0" y2="359.20" stroke="#d5d5d5" stroke-width="0.6"/>
<line x1="72.5" y1="375.93" x2="74.0" y2="375.93" stroke="#d5d5d5" stroke-width="0.6"/>
<line x1="72.5" y1="392.67" x2="74.0" y2="392.67" stroke="#d5d5d5" stroke-width="0.6"/>
<path d="M72.60,391.89 L73.10,391.88 L73.60,391.87 L74.10,391.85 L74.60,391.84 L75.10,391.81 L75.60,391.79 L76.11,391.75 L76.61,391.70 L77.11,391.65 L77.61,391.58 L78.11,391.50 L78.61,391.42 L79.11,391.32 L79.61,391.21 L80.11,391.09 L80.61,390.97 L81.11,390.83 L81.61,390.69 L82.12,390.54 L82.62,390.39 L83.12,390.24 L83.62,390.08 L84.12,389.91 L84.62,389.75 L85.12,389.58 L85.62,389.41 L86.12,389.24 L86.62,389.06 L87.12,388.89 L87.62,388.71 L88.13,388.54 L88.63,388.36 L89.13,388.18 L89.63,388.00 L90.13,387.82 L90.63,387.64 L91.13,387.46 L91.63,387.28 L92.13,387.10 L92.63,386.91 L93.13,386.73 L93.63,386.55 L94.14,386.37 L94.64,386.19 L95.14,386.00 L95.64,385.82 L96.14,385.64 L96.64,385.46 L97.14,385.28 L97.64,385.10 L98.14,384.92 L98.64,384.74 L99.14,384.56 L99.64,384.38 L100.15,384.21 L100.65,384.04 L101.15,383.88 L101.65,383.72 L102.15,383.56 L102.65,383.42 L103.15,383.27 L103.65,383.14 L104.15,383.01 L104.65,382.88 L105.15,382.76 L105.65,382.64 L106.15,382.52 L106.66,382.40 L107.16,382.28 L107.66,382.15 L108.16,382.01 L108.66,381.86 L109.16,381.69 L109.66,381.51 L110.16,381.31 L110.66,381.08 L111.16,380.83 L111.66,380.54 L112.16,380.23 L112.67,379.88 L113.17,379.50 L113.67,379.08 L114.17,378.62 L114.67,378.13 L115.17,377.60 L115.67,377.04 L116.17,376.45 L116.67,375.83 L117.17,375.19 L117.67,374.54 L118.17,373.87 L118.68,373.20 L119.18,372.53 L119.68,371.87 L120.18,371.22 L120.68,370.58 L121.18,369.96 L121.68,369.36 L122.18,368.79 L122.68,368.24 L123.18,367.70 L123.68,367.19 L124.18,366.68 L124.69,366.19 L125.19,365.71 L125.69,365.24 L126.19,364.78 L126.69,364.34 L127.19,363.90 L127.69,363.48 L128.19,363.08 L128.69,362.69 L129.19,362.33 L129.69,362.00 L130.19,361.69 L130.70,361.41 L131.20,361.17 L131.70,360.97 L132.20,360.81 L132.70,360.70 L133.20,360.64 L133.70,360.63 L134.20,360.68 L134.70,360.78 L135.20,360.93 L135.70,361.13 L136.20,361.38 L136.70,361.67 L137.21,362.00 L137.71,362.35 L138.21,362.73 L138.71,363.12 L139.21,363.52 L139.71,363.93 L140.21,364.35 L140.71,364.76 L141.21,365.19 L141.71,365.61 L142.21,366.05 L142.71,366.50 L143.22,366.95 L143.72,367.42 L144.22,367.89 L144.72,368.37 L145.22,368.85 L145.72,369.33 L146.22,369.82 L146.72,370.29 L147.22,370.76 L147.72,371.23 L148.22,371.68 L148.72,372.11 L149.23,372.53 L149.73,372.93 L150.23,373.31 L150.73,373.67 L151.23,374.00 L151.73,374.32 L152.23,374.61 L152.73,374.88 L153.23,375.12 L153.73,375.35 L154.23,375.55 L154.73,375.73 L155.24,375.88 L155.74,376.01 L156.24,376.13 L156.74,376.22 L157.24,376.29 L157.74,376.35 L158.24,376.39 L158.74,376.42 L159.24,376.44 L159.74,376.43 L160.24,376.42 L160.74,376.39 L161.25,376.35 L161.75,376.30 L162.25,376.24 L162.75,376.18 L163.25,376.10 L163.75,376.02 L164.25,375.94 L164.75,375.85 L165.25,375.76 L165.75,375.68 L166.25,375.59 L166.75,375.50 L167.25,375.42 L167.76,375.33 L168.26,375.26 L168.76,375.18 L169.26,375.11 L169.76,375.05 L170.26,374.99 L170.76,374.94 L171.26,374.89 L171.76,374.84 L172.26,374.80 L172.76,374.77 L173.26,374.73 L173.77,374.70 L174.27,374.66 L174.77,374.63 L175.27,374.60 L175.77,374.58 L176.27,374.55 L176.77,374.52 L177.27,374.50 L177.77,374.48 L178.27,374.46 L178.77,374.44 L179.27,374.42 L179.78,374.40 L180.28,374.38 L180.78,374.37 L181.28,374.36 L181.78,374.34 L182.28,374.33 L182.78,374.33 L183.28,374.32 L183.78,374.32 L184.28,374.32 L184.78,374.32 L185.28,374.32 L185.79,374.33 L186.29,374.34 L186.79,374.36 L187.29,374.37 L187.79,374.39 L188.29,374.42 L188.79,374.45 L189.29,374.48 L189.79,374.51 L190.29,374.54 L190.79,374.58 L191.29,374.62 L191.80,374.66 L192.30,374.70 L192.80,374.74 L193.30,374.78 L193.80,374.82 L194.30,374.86 L194.80,374.90" fill="none" stroke="#1a1a1a" stroke-width="1.0"/>
<path d="M72.60,383.90 L73.10,383.76 L73.60,383.63 L74.10,383.49 L74.60,383.36 L75.10,383.23 L75.60,383.09 L76.11,382.96 L76.61,382.83 L77.11,382.69 L77.61,382.55 L78.11,382.42 L78.61,382.28 L79.11,382.14 L79.61,382.00 L80.11,381.85 L80.61,381.70 L81.11,381.55 L81.61,381.40 L82.12,381.25 L82.62,381.09 L83.12,380.92 L83.62,380.76 L84.12,380.58 L84.62,380.41 L85.12,380.23 L85.62,380.04 L86.12,379.84 L86.62,379.65 L87.12,379.44 L87.62,379.23 L88.13,379.02 L88.63,378.81 L89.13,378.59 L89.63,378.37 L90.13,378.14 L90.63,377.92 L91.13,377.69 L91.63,377.46 L92.13,377.24 L92.63,377.01 L93.13,376.78 L93.63,376.56 L94.14,376.33 L94.64,376.11 L95.14,375.89 L95.64,375.67 L96.14,375.46 L96.64,375.25 L97.14,375.05 L97.64,374.85 L98.14,374.66 L98.64,374.49 L99.14,374.32 L99.64,374.17 L100.15,374.04 L100.65,373.91 L101.15,373.80 L101.65,373.71 L102.15,373.62 L102.65,373.54 L103.15,373.47 L103.65,373.40 L104.15,373.32 L104.65,373.24 L105.15,373.15 L105.65,373.04 L106.15,372.92 L106.66,372.77 L107.16,372.59 L107.66,372.39 L108.16,372.15 L108.66,371.89 L109.16,371.60 L109.66,371.29 L110.16,370.95 L110.66,370.58 L111.16,370.20 L111.66,369.80 L112.16,369.38 L112.67,368.93 L113.17,368.47 L113.67,368.00 L114.17,367.50 L114.67,366.98 L115.17,366.45 L115.67,365.89 L116.17,365.31 L116.67,364.71 L117.17,364.08 L117.67,363.43 L118.17,362.74 L118.68,362.01 L119.18,361.25 L119.68,360.44 L120.18,359.59 L120.68,358.69 L121.18,357.75 L121.68,356.78 L122.18,355.77 L122.68,354.74 L123.18,353.69 L123.68,352.63 L124.18,351.57 L124.69,350.53 L125.19,349.50 L125.69,348.50 L126.19,347.55 L126.69,346.63 L127.19,345.76 L127.69,344.95 L128.19,344.18 L128.69,343.49 L129.19,342.85 L129.69,342.30 L130.19,341.82 L130.70,341.43 L131.20,341.13 L131.70,340.93 L132.20,340.82 L132.70,340.80 L133.20,340.89 L133.70,341.07 L134.20,341.35 L134.70,341.72 L135.20,342.18 L135.70,342.73 L136.20,343.36 L136.70,344.06 L137.21,344.84 L137.71,345.68 L138.21,346.57 L138.71,347.52 L139.21,348.50 L139.71,349.52 L140.21,350.56 L140.71,351.61 L141.21,352.66 L141.71,353.71 L142.21,354.74 L142.71,355.75 L143.22,356.74 L143.72,357.69 L144.22,358.61 L144.72,359.49 L145.22,360.34 L145.72,361.16 L146.22,361.94 L146.72,362.70 L147.22,363.42 L147.72,364.12 L148.22,364.79 L148.72,365.44 L149.23,366.05 L149.73,366.64 L150.23,367.21 L150.73,367.75 L151.23,368.26 L151.73,368.75 L152.23,369.21 L152.73,369.65 L153.23,370.06 L153.73,370.46 L154.23,370.83 L154.73,371.19 L155.24,371.53 L155.74,371.84 L156.24,372.14 L156.74,372.43 L157.24,372.70 L157.74,372.95 L158.24,373.19 L158.74,373.41 L159.24,373.62 L159.74,373.82 L160.24,374.01 L160.74,374.19 L161.25,374.36 L161.75,374.52 L162.25,374.68 L162.75,374.82 L163.25,374.96 L163.75,375.09 L164.25,375.21 L164.75,375.33 L165.25,375.44 L165.75,375.55 L166.25,375.65 L166.75,375.74 L167.25,375.82 L167.76,375.90 L168.26,375.98 L168.76,376.05 L169.26,376.11 L169.76,376.17 L170.26,376.22 L170.76,376.27 L171.26,376.31 L171.76,376.35 L172.26,376.39 L172.76,376.41 L173.26,376.44 L173.77,376.46 L174.27,376.47 L174.77,376.48 L175.27,376.49 L175.77,376.49 L176.27,376.48 L176.77,376.47 L177.27,376.46 L177.77,376.44 L178.27,376.41 L178.77,376.38 L179.27,376.35 L179.78,376.31 L180.28,376.26 L180.78,376.22 L181.28,376.17 L181.78,376.12 L182.28,376.06 L182.78,376.00 L183.28,375.94 L183.78,375.88 L184.28,375.82 L184.78,375.75 L185.28,375.69 L185.79,375.62 L186.29,375.55 L186.79,375.48 L187.29,375.41 L187.79,375.33 L188.29,375.26 L188.79,375.19 L189.29,375.11 L189.79,375.04 L190.29,374.96 L190.79,374.89 L191.29,374.81 L191.80,374.74 L192.30,374.66 L192.80,374.59 L193.30,374.51 L193.80,374.44 L194.30,374.37 L194.80,374.30" fill="none" stroke="#ff1a1a" stroke-width="1.0"/>
<rect x="72.5" y="309.0" width="122.20" height="100.40" fill="none" stroke="#bdbdbd" stroke-width="0.9"/>
<text x="69.90" y="312.80" font-size="8.7" text-anchor="end" fill="#000">0.04</text>
<text x="69.90" y="346.27" font-size="8.7" text-anchor="end" fill="#000">0.02</text>
<text x="69.90" y="379.73" font-size="8.7" text-anchor="end" fill="#000">0</text>
<text x="69.90" y="413.20" font-size="8.7" text-anchor="end" fill="#000">-0.02</text>
<text x="72.50" y="421.40" font-size="8.7" text-anchor="middle" fill="#000">400</text>
<text x="133.60" y="421.40" font-size="8.7" text-anchor="middle" fill="#000">450</text>
<text x="194.70" y="421.40" font-size="8.7" text-anchor="middle" fill="#000">500</text>
<text x="133.60" y="432.70" font-size="9" text-anchor="middle" fill="#000" textLength="68.3" lengthAdjust="spacingAndGlyphs">Wavelength (nm)</text>
<text transform="translate(47.30,360.70) rotate(-90)" x="0" y="0" font-size="9" text-anchor="middle" fill="#000" textLength="47.4" lengthAdjust="spacingAndGlyphs">Absorbance</text>
<line x1="246.6" y1="359.05" x2="366.6" y2="359.05" stroke="#e3e3e3" stroke-width="0.8"/>
<line x1="258.60" y1="408.6" x2="258.60" y2="407.10" stroke="#cfcfcf" stroke-width="0.6"/>
<line x1="270.60" y1="408.6" x2="270.60" y2="407.10" stroke="#cfcfcf" stroke-width="0.6"/>
<line x1="282.60" y1="408.6" x2="282.60" y2="407.10" stroke="#cfcfcf" stroke-width="0.6"/>
<line x1="294.60" y1="408.6" x2="294.60" y2="407.10" stroke="#cfcfcf" stroke-width="0.6"/>
<line x1="306.60" y1="408.6" x2="306.60" y2="407.10" stroke="#cfcfcf" stroke-width="0.6"/>
<line x1="318.60" y1="408.6" x2="318.60" y2="407.10" stroke="#cfcfcf" stroke-width="0.6"/>
<line x1="330.60" y1="408.6" x2="330.60" y2="407.10" stroke="#cfcfcf" stroke-width="0.6"/>
<line x1="342.60" y1="408.6" x2="342.60" y2="407.10" stroke="#cfcfcf" stroke-width="0.6"/>
<line x1="354.60" y1="408.6" x2="354.60" y2="407.10" stroke="#cfcfcf" stroke-width="0.6"/>
<line x1="246.6" y1="326.02" x2="248.1" y2="326.02" stroke="#d5d5d5" stroke-width="0.6"/>
<line x1="246.6" y1="342.53" x2="248.1" y2="342.53" stroke="#d5d5d5" stroke-width="0.6"/>
<line x1="246.6" y1="359.05" x2="248.1" y2="359.05" stroke="#d5d5d5" stroke-width="0.6"/>
<line x1="246.6" y1="375.57" x2="248.1" y2="375.57" stroke="#d5d5d5" stroke-width="0.6"/>
<line x1="246.6" y1="392.08" x2="248.1" y2="392.08" stroke="#d5d5d5" stroke-width="0.6"/>
<path d="M246.60,376.91 L247.10,376.12 L247.60,375.33 L248.10,374.55 L248.60,373.78 L249.10,373.02 L249.60,372.27 L250.11,371.55 L250.61,370.84 L251.11,370.16 L251.61,369.49 L252.11,368.84 L252.61,368.21 L253.11,367.59 L253.61,366.99 L254.11,366.40 L254.61,365.83 L255.11,365.27 L255.62,364.73 L256.12,364.21 L256.62,363.71 L257.12,363.24 L257.62,362.79 L258.12,362.37 L258.62,361.98 L259.12,361.61 L259.62,361.26 L260.12,360.94 L260.62,360.64 L261.12,360.36 L261.62,360.10 L262.13,359.85 L262.63,359.62 L263.13,359.40 L263.63,359.19 L264.13,359.00 L264.63,358.81 L265.13,358.63 L265.63,358.46 L266.13,358.29 L266.63,358.14 L267.13,357.99 L267.63,357.85 L268.14,357.72 L268.64,357.59 L269.14,357.47 L269.64,357.36 L270.14,357.26 L270.64,357.17 L271.14,357.08 L271.64,357.01 L272.14,356.95 L272.64,356.91 L273.14,356.87 L273.64,356.85 L274.15,356.85 L274.65,356.86 L275.15,356.88 L275.65,356.92 L276.15,356.97 L276.65,357.03 L277.15,357.09 L277.65,357.17 L278.15,357.25 L278.65,357.33 L279.15,357.42 L279.65,357.51 L280.16,357.60 L280.66,357.69 L281.16,357.79 L281.66,357.88 L282.16,357.98 L282.66,358.09 L283.16,358.21 L283.66,358.33 L284.16,358.46 L284.66,358.59 L285.16,358.72 L285.67,358.85 L286.17,358.97 L286.67,359.08 L287.17,359.16 L287.67,359.22 L288.17,359.25 L288.67,359.25 L289.17,359.21 L289.67,359.13 L290.17,359.02 L290.67,358.86 L291.17,358.67 L291.68,358.44 L292.18,358.17 L292.68,357.88 L293.18,357.56 L293.68,357.22 L294.18,356.86 L294.68,356.48 L295.18,356.09 L295.68,355.69 L296.18,355.28 L296.68,354.87 L297.18,354.45 L297.69,354.02 L298.19,353.59 L298.69,353.14 L299.19,352.67 L299.69,352.20 L300.19,351.71 L300.69,351.21 L301.19,350.70 L301.69,350.19 L302.19,349.68 L302.69,349.17 L303.19,348.67 L303.69,348.18 L304.20,347.70 L304.70,347.23 L305.20,346.79 L305.70,346.37 L306.20,345.98 L306.70,345.63 L307.20,345.32 L307.70,345.05 L308.20,344.82 L308.70,344.66 L309.20,344.54 L309.70,344.48 L310.21,344.48 L310.71,344.54 L311.21,344.65 L311.71,344.81 L312.21,345.01 L312.71,345.26 L313.21,345.55 L313.71,345.86 L314.21,346.20 L314.71,346.56 L315.21,346.92 L315.72,347.30 L316.22,347.67 L316.72,348.03 L317.22,348.39 L317.72,348.75 L318.22,349.10 L318.72,349.46 L319.22,349.81 L319.72,350.17 L320.22,350.54 L320.72,350.90 L321.22,351.28 L321.73,351.65 L322.23,352.03 L322.73,352.41 L323.23,352.78 L323.73,353.15 L324.23,353.51 L324.73,353.87 L325.23,354.21 L325.73,354.54 L326.23,354.87 L326.73,355.17 L327.23,355.47 L327.74,355.75 L328.24,356.03 L328.74,356.29 L329.24,356.55 L329.74,356.79 L330.24,357.03 L330.74,357.27 L331.24,357.50 L331.74,357.72 L332.24,357.93 L332.74,358.14 L333.24,358.34 L333.75,358.53 L334.25,358.72 L334.75,358.90 L335.25,359.07 L335.75,359.23 L336.25,359.39 L336.75,359.54 L337.25,359.67 L337.75,359.80 L338.25,359.92 L338.75,360.03 L339.25,360.13 L339.75,360.23 L340.26,360.31 L340.76,360.38 L341.26,360.45 L341.76,360.50 L342.26,360.55 L342.76,360.59 L343.26,360.62 L343.76,360.65 L344.26,360.67 L344.76,360.68 L345.26,360.69 L345.76,360.69 L346.27,360.69 L346.77,360.68 L347.27,360.67 L347.77,360.66 L348.27,360.64 L348.77,360.62 L349.27,360.59 L349.77,360.57 L350.27,360.54 L350.77,360.51 L351.27,360.48 L351.77,360.44 L352.28,360.41 L352.78,360.37 L353.28,360.33 L353.78,360.29 L354.28,360.24 L354.78,360.19 L355.28,360.14 L355.78,360.09 L356.28,360.03 L356.78,359.96 L357.28,359.90 L357.79,359.83 L358.29,359.75 L358.79,359.68 L359.29,359.60 L359.79,359.52 L360.29,359.44 L360.79,359.36 L361.29,359.27 L361.79,359.19 L362.29,359.10 L362.79,359.01 L363.29,358.92 L363.80,358.83 L364.30,358.74 L364.80,358.65 L365.30,358.56 L365.80,358.47 L366.30,358.39 L366.80,358.30" fill="none" stroke="#1a1a1a" stroke-width="1.0"/>
<path d="M246.60,388.90 L247.10,388.20 L247.60,387.49 L248.10,386.78 L248.60,386.08 L249.10,385.37 L249.60,384.66 L250.11,383.96 L250.61,383.26 L251.11,382.56 L251.61,381.86 L252.11,381.16 L252.61,380.47 L253.11,379.79 L253.61,379.10 L254.11,378.43 L254.61,377.75 L255.11,377.09 L255.62,376.42 L256.12,375.76 L256.62,375.10 L257.12,374.44 L257.62,373.79 L258.12,373.13 L258.62,372.48 L259.12,371.83 L259.62,371.19 L260.12,370.55 L260.62,369.92 L261.12,369.30 L261.62,368.68 L262.13,368.08 L262.63,367.50 L263.13,366.93 L263.63,366.37 L264.13,365.84 L264.63,365.32 L265.13,364.82 L265.63,364.35 L266.13,363.90 L266.63,363.47 L267.13,363.06 L267.63,362.68 L268.14,362.31 L268.64,361.96 L269.14,361.63 L269.64,361.31 L270.14,361.02 L270.64,360.73 L271.14,360.46 L271.64,360.20 L272.14,359.95 L272.64,359.71 L273.14,359.48 L273.64,359.26 L274.15,359.05 L274.65,358.84 L275.15,358.65 L275.65,358.46 L276.15,358.29 L276.65,358.13 L277.15,357.98 L277.65,357.85 L278.15,357.73 L278.65,357.63 L279.15,357.53 L279.65,357.45 L280.16,357.37 L280.66,357.29 L281.16,357.21 L281.66,357.13 L282.16,357.03 L282.66,356.93 L283.16,356.81 L283.66,356.67 L284.16,356.51 L284.66,356.33 L285.16,356.12 L285.67,355.88 L286.17,355.62 L286.67,355.33 L287.17,355.01 L287.67,354.67 L288.17,354.31 L288.67,353.91 L289.17,353.49 L289.67,353.04 L290.17,352.55 L290.67,352.02 L291.17,351.46 L291.68,350.86 L292.18,350.21 L292.68,349.51 L293.18,348.77 L293.68,347.97 L294.18,347.12 L294.68,346.21 L295.18,345.26 L295.68,344.24 L296.18,343.19 L296.68,342.09 L297.18,340.95 L297.69,339.79 L298.19,338.61 L298.69,337.42 L299.19,336.23 L299.69,335.04 L300.19,333.86 L300.69,332.69 L301.19,331.54 L301.69,330.39 L302.19,329.25 L302.69,328.13 L303.19,327.01 L303.69,325.90 L304.20,324.83 L304.70,323.79 L305.20,322.81 L305.70,321.92 L306.20,321.12 L306.70,320.44 L307.20,319.88 L307.70,319.45 L308.20,319.16 L308.70,319.00 L309.20,318.97 L309.70,319.06 L310.21,319.25 L310.71,319.54 L311.21,319.92 L311.71,320.37 L312.21,320.89 L312.71,321.47 L313.21,322.10 L313.71,322.78 L314.21,323.50 L314.71,324.27 L315.21,325.08 L315.72,325.93 L316.22,326.82 L316.72,327.77 L317.22,328.76 L317.72,329.81 L318.22,330.89 L318.72,332.02 L319.22,333.17 L319.72,334.35 L320.22,335.53 L320.72,336.72 L321.22,337.89 L321.73,339.05 L322.23,340.18 L322.73,341.27 L323.23,342.33 L323.73,343.36 L324.23,344.34 L324.73,345.29 L325.23,346.22 L325.73,347.11 L326.23,347.97 L326.73,348.81 L327.23,349.62 L327.74,350.41 L328.24,351.17 L328.74,351.90 L329.24,352.59 L329.74,353.25 L330.24,353.88 L330.74,354.47 L331.24,355.02 L331.74,355.54 L332.24,356.01 L332.74,356.44 L333.24,356.84 L333.75,357.19 L334.25,357.51 L334.75,357.79 L335.25,358.04 L335.75,358.26 L336.25,358.45 L336.75,358.61 L337.25,358.76 L337.75,358.88 L338.25,358.98 L338.75,359.07 L339.25,359.15 L339.75,359.20 L340.26,359.24 L340.76,359.27 L341.26,359.27 L341.76,359.26 L342.26,359.23 L342.76,359.19 L343.26,359.14 L343.76,359.07 L344.26,359.00 L344.76,358.92 L345.26,358.84 L345.76,358.77 L346.27,358.69 L346.77,358.62 L347.27,358.55 L347.77,358.50 L348.27,358.44 L348.77,358.40 L349.27,358.36 L349.77,358.33 L350.27,358.31 L350.77,358.29 L351.27,358.27 L351.77,358.26 L352.28,358.25 L352.78,358.25 L353.28,358.24 L353.78,358.24 L354.28,358.23 L354.78,358.23 L355.28,358.23 L355.78,358.23 L356.28,358.23 L356.78,358.23 L357.28,358.23 L357.79,358.23 L358.29,358.24 L358.79,358.24 L359.29,358.24 L359.79,358.24 L360.29,358.25 L360.79,358.25 L361.29,358.26 L361.79,358.26 L362.29,358.26 L362.79,358.27 L363.29,358.27 L363.80,358.28 L364.30,358.28 L364.80,358.29 L365.30,358.29 L365.80,358.29 L366.30,358.30 L366.80,358.30" fill="none" stroke="#ff1a1a" stroke-width="1.0"/>
<rect x="246.6" y="309.5" width="120.00" height="99.10" fill="none" stroke="#bdbdbd" stroke-width="0.9"/>
<text x="244.00" y="313.30" font-size="8.7" text-anchor="end" fill="#000">0.03</text>
<text x="244.00" y="362.85" font-size="8.7" text-anchor="end" fill="#000">0</text>
<text x="244.00" y="412.40" font-size="8.7" text-anchor="end" fill="#000">-0.03</text>
<text x="246.60" y="420.60" font-size="8.7" text-anchor="middle" fill="#000">400</text>
<text x="306.60" y="420.60" font-size="8.7" text-anchor="middle" fill="#000">450</text>
<text x="366.60" y="420.60" font-size="8.7" text-anchor="middle" fill="#000">500</text>
<text x="306.60" y="431.90" font-size="9" text-anchor="middle" fill="#000" textLength="68.3" lengthAdjust="spacingAndGlyphs">Wavelength (nm)</text>
<text transform="translate(221.40,360.55) rotate(-90)" x="0" y="0" font-size="9" text-anchor="middle" fill="#000" textLength="47.4" lengthAdjust="spacingAndGlyphs">Absorbance</text>
<line x1="417.8" y1="369.64" x2="539.6" y2="369.64" stroke="#e3e3e3" stroke-width="0.8"/>
<line x1="429.98" y1="409.8" x2="429.98" y2="408.30" stroke="#cfcfcf" stroke-width="0.6"/>
<line x1="442.16" y1="409.8" x2="442.16" y2="408.30" stroke="#cfcfcf" stroke-width="0.6"/>
<line x1="454.34" y1="409.8" x2="454.34" y2="408.30" stroke="#cfcfcf" stroke-width="0.6"/>
<line x1="466.52" y1="409.8" x2="466.52" y2="408.30" stroke="#cfcfcf" stroke-width="0.6"/>
<line x1="478.70" y1="409.8" x2="478.70" y2="408.30" stroke="#cfcfcf" stroke-width="0.6"/>
<line x1="490.88" y1="409.8" x2="490.88" y2="408.30" stroke="#cfcfcf" stroke-width="0.6"/>
<line x1="503.06" y1="409.8" x2="503.06" y2="408.30" stroke="#cfcfcf" stroke-width="0.6"/>
<line x1="515.24" y1="409.8" x2="515.24" y2="408.30" stroke="#cfcfcf" stroke-width="0.6"/>
<line x1="527.42" y1="409.8" x2="527.42" y2="408.30" stroke="#cfcfcf" stroke-width="0.6"/>
<line x1="417.8" y1="319.44" x2="419.3" y2="319.44" stroke="#d5d5d5" stroke-width="0.6"/>
<line x1="417.8" y1="329.48" x2="419.3" y2="329.48" stroke="#d5d5d5" stroke-width="0.6"/>
<line x1="417.8" y1="339.52" x2="419.3" y2="339.52" stroke="#d5d5d5" stroke-width="0.6"/>
<line x1="417.8" y1="349.56" x2="419.3" y2="349.56" stroke="#d5d5d5" stroke-width="0.6"/>
<line x1="417.8" y1="359.60" x2="419.3" y2="359.60" stroke="#d5d5d5" stroke-width="0.6"/>
<line x1="417.8" y1="369.64" x2="419.3" y2="369.64" stroke="#d5d5d5" stroke-width="0.6"/>
<line x1="417.8" y1="379.68" x2="419.3" y2="379.68" stroke="#d5d5d5" stroke-width="0.6"/>
<line x1="417.8" y1="389.72" x2="419.3" y2="389.72" stroke="#d5d5d5" stroke-width="0.6"/>
<line x1="417.8" y1="399.76" x2="419.3" y2="399.76" stroke="#d5d5d5" stroke-width="0.6"/>
<path d="M418.40,376.90 L418.90,376.85 L419.40,376.80 L419.90,376.75 L420.40,376.69 L420.90,376.64 L421.40,376.59 L421.90,376.54 L422.40,376.49 L422.90,376.44 L423.40,376.38 L423.90,376.33 L424.40,376.27 L424.91,376.22 L425.41,376.16 L425.91,376.09 L426.41,376.03 L426.91,375.96 L427.41,375.89 L427.91,375.82 L428.41,375.75 L428.91,375.67 L429.41,375.59 L429.91,375.50 L430.41,375.41 L430.91,375.32 L431.41,375.23 L431.91,375.14 L432.41,375.04 L432.91,374.94 L433.41,374.84 L433.91,374.74 L434.41,374.64 L434.91,374.53 L435.41,374.42 L435.91,374.32 L436.41,374.21 L436.92,374.09 L437.42,373.98 L437.92,373.86 L438.42,373.75 L438.92,373.63 L439.42,373.51 L439.92,373.38 L440.42,373.26 L440.92,373.13 L441.42,373.00 L441.92,372.87 L442.42,372.73 L442.92,372.60 L443.42,372.46 L443.92,372.31 L444.42,372.17 L444.92,372.03 L445.42,371.88 L445.92,371.73 L446.42,371.58 L446.92,371.43 L447.42,371.28 L447.92,371.12 L448.42,370.97 L448.93,370.80 L449.43,370.64 L449.93,370.47 L450.43,370.29 L450.93,370.11 L451.43,369.92 L451.93,369.73 L452.43,369.52 L452.93,369.31 L453.43,369.09 L453.93,368.85 L454.43,368.61 L454.93,368.35 L455.43,368.08 L455.93,367.79 L456.43,367.48 L456.93,367.15 L457.43,366.81 L457.93,366.44 L458.43,366.06 L458.93,365.66 L459.43,365.25 L459.93,364.82 L460.43,364.39 L460.93,363.95 L461.44,363.51 L461.94,363.08 L462.44,362.64 L462.94,362.22 L463.44,361.80 L463.94,361.40 L464.44,361.01 L464.94,360.64 L465.44,360.28 L465.94,359.93 L466.44,359.59 L466.94,359.27 L467.44,358.94 L467.94,358.63 L468.44,358.32 L468.94,358.02 L469.44,357.71 L469.94,357.42 L470.44,357.13 L470.94,356.84 L471.44,356.57 L471.94,356.30 L472.44,356.03 L472.94,355.78 L473.45,355.53 L473.95,355.30 L474.45,355.08 L474.95,354.87 L475.45,354.68 L475.95,354.51 L476.45,354.36 L476.95,354.23 L477.45,354.12 L477.95,354.05 L478.45,354.00 L478.95,353.99 L479.45,354.01 L479.95,354.07 L480.45,354.16 L480.95,354.29 L481.45,354.46 L481.95,354.65 L482.45,354.88 L482.95,355.14 L483.45,355.41 L483.95,355.70 L484.45,356.01 L484.95,356.33 L485.46,356.66 L485.96,357.00 L486.46,357.35 L486.96,357.72 L487.46,358.10 L487.96,358.49 L488.46,358.90 L488.96,359.32 L489.46,359.75 L489.96,360.19 L490.46,360.62 L490.96,361.06 L491.46,361.49 L491.96,361.92 L492.46,362.34 L492.96,362.74 L493.46,363.14 L493.96,363.52 L494.46,363.88 L494.96,364.22 L495.46,364.55 L495.96,364.87 L496.46,365.17 L496.96,365.46 L497.47,365.74 L497.97,366.01 L498.47,366.27 L498.97,366.52 L499.47,366.76 L499.97,367.00 L500.47,367.23 L500.97,367.44 L501.47,367.65 L501.97,367.85 L502.47,368.03 L502.97,368.21 L503.47,368.38 L503.97,368.54 L504.47,368.69 L504.97,368.82 L505.47,368.95 L505.97,369.07 L506.47,369.19 L506.97,369.29 L507.47,369.38 L507.97,369.47 L508.47,369.55 L508.97,369.62 L509.47,369.68 L509.98,369.73 L510.48,369.78 L510.98,369.82 L511.48,369.86 L511.98,369.89 L512.48,369.91 L512.98,369.94 L513.48,369.95 L513.98,369.97 L514.48,369.98 L514.98,369.99 L515.48,370.00 L515.98,370.00 L516.48,370.00 L516.98,370.00 L517.48,370.00 L517.98,370.00 L518.48,370.00 L518.98,369.99 L519.48,369.98 L519.98,369.98 L520.48,369.97 L520.98,369.96 L521.48,369.95 L521.99,369.95 L522.49,369.94 L522.99,369.93 L523.49,369.92 L523.99,369.92 L524.49,369.91 L524.99,369.91 L525.49,369.90 L525.99,369.90 L526.49,369.89 L526.99,369.89 L527.49,369.88 L527.99,369.88 L528.49,369.87 L528.99,369.86 L529.49,369.85 L529.99,369.84 L530.49,369.83 L530.99,369.82 L531.49,369.80 L531.99,369.79 L532.49,369.77 L532.99,369.76 L533.49,369.74 L534.00,369.72 L534.50,369.71 L535.00,369.69 L535.50,369.67 L536.00,369.65 L536.50,369.63 L537.00,369.61 L537.50,369.59 L538.00,369.57 L538.50,369.55 L539.00,369.54 L539.50,369.52 L540.00,369.50" fill="none" stroke="#1a1a1a" stroke-width="1.0"/>
<path d="M418.40,376.30 L418.90,376.24 L419.40,376.18 L419.90,376.12 L420.40,376.06 L420.90,376.01 L421.40,375.95 L421.90,375.89 L422.40,375.83 L422.90,375.78 L423.40,375.72 L423.90,375.66 L424.40,375.60 L424.91,375.53 L425.41,375.47 L425.91,375.40 L426.41,375.33 L426.91,375.26 L427.41,375.18 L427.91,375.10 L428.41,375.02 L428.91,374.93 L429.41,374.84 L429.91,374.74 L430.41,374.64 L430.91,374.52 L431.41,374.40 L431.91,374.28 L432.41,374.14 L432.91,373.99 L433.41,373.84 L433.91,373.68 L434.41,373.51 L434.91,373.33 L435.41,373.14 L435.91,372.95 L436.41,372.75 L436.92,372.55 L437.42,372.34 L437.92,372.13 L438.42,371.91 L438.92,371.70 L439.42,371.48 L439.92,371.26 L440.42,371.04 L440.92,370.82 L441.42,370.60 L441.92,370.38 L442.42,370.17 L442.92,369.97 L443.42,369.76 L443.92,369.57 L444.42,369.38 L444.92,369.19 L445.42,369.01 L445.92,368.84 L446.42,368.67 L446.92,368.51 L447.42,368.35 L447.92,368.19 L448.42,368.03 L448.93,367.87 L449.43,367.71 L449.93,367.55 L450.43,367.38 L450.93,367.20 L451.43,367.02 L451.93,366.83 L452.43,366.63 L452.93,366.41 L453.43,366.18 L453.93,365.93 L454.43,365.67 L454.93,365.38 L455.43,365.08 L455.93,364.74 L456.43,364.39 L456.93,364.01 L457.43,363.60 L457.93,363.16 L458.43,362.71 L458.93,362.23 L459.43,361.73 L459.93,361.22 L460.43,360.69 L460.93,360.15 L461.44,359.60 L461.94,359.05 L462.44,358.51 L462.94,357.96 L463.44,357.43 L463.94,356.90 L464.44,356.38 L464.94,355.88 L465.44,355.38 L465.94,354.89 L466.44,354.41 L466.94,353.93 L467.44,353.45 L467.94,352.97 L468.44,352.49 L468.94,352.01 L469.44,351.54 L469.94,351.06 L470.44,350.59 L470.94,350.13 L471.44,349.67 L471.94,349.23 L472.44,348.80 L472.94,348.38 L473.45,347.98 L473.95,347.59 L474.45,347.24 L474.95,346.90 L475.45,346.60 L475.95,346.33 L476.45,346.10 L476.95,345.90 L477.45,345.75 L477.95,345.65 L478.45,345.59 L478.95,345.58 L479.45,345.62 L479.95,345.72 L480.45,345.86 L480.95,346.06 L481.45,346.30 L481.95,346.59 L482.45,346.92 L482.95,347.28 L483.45,347.69 L483.95,348.12 L484.45,348.58 L484.95,349.07 L485.46,349.58 L485.96,350.12 L486.46,350.69 L486.96,351.29 L487.46,351.93 L487.96,352.60 L488.46,353.30 L488.96,354.02 L489.46,354.76 L489.96,355.51 L490.46,356.27 L490.96,357.03 L491.46,357.78 L491.96,358.52 L492.46,359.24 L492.96,359.93 L493.46,360.59 L493.96,361.22 L494.46,361.82 L494.96,362.37 L495.46,362.90 L495.96,363.38 L496.46,363.84 L496.96,364.26 L497.47,364.65 L497.97,365.02 L498.47,365.37 L498.97,365.70 L499.47,366.00 L499.97,366.29 L500.47,366.56 L500.97,366.81 L501.47,367.05 L501.97,367.27 L502.47,367.48 L502.97,367.67 L503.47,367.86 L503.97,368.03 L504.47,368.19 L504.97,368.34 L505.47,368.48 L505.97,368.62 L506.47,368.74 L506.97,368.86 L507.47,368.97 L507.97,369.08 L508.47,369.17 L508.97,369.26 L509.47,369.34 L509.98,369.41 L510.48,369.48 L510.98,369.54 L511.48,369.59 L511.98,369.63 L512.48,369.67 L512.98,369.71 L513.48,369.74 L513.98,369.77 L514.48,369.79 L514.98,369.81 L515.48,369.83 L515.98,369.85 L516.48,369.86 L516.98,369.87 L517.48,369.88 L517.98,369.88 L518.48,369.89 L518.98,369.89 L519.48,369.89 L519.98,369.90 L520.48,369.90 L520.98,369.90 L521.48,369.90 L521.99,369.90 L522.49,369.89 L522.99,369.89 L523.49,369.89 L523.99,369.89 L524.49,369.90 L524.99,369.90 L525.49,369.90 L525.99,369.90 L526.49,369.90 L526.99,369.90 L527.49,369.90 L527.99,369.89 L528.49,369.89 L528.99,369.88 L529.49,369.88 L529.99,369.87 L530.49,369.86 L530.99,369.84 L531.49,369.83 L531.99,369.82 L532.49,369.80 L532.99,369.78 L533.49,369.77 L534.00,369.75 L534.50,369.73 L535.00,369.71 L535.50,369.69 L536.00,369.67 L536.50,369.65 L537.00,369.62 L537.50,369.60 L538.00,369.58 L538.50,369.56 L539.00,369.54 L539.50,369.52 L540.00,369.50" fill="none" stroke="#ff1a1a" stroke-width="1.0"/>
<rect x="417.8" y="309.4" width="121.80" height="100.40" fill="none" stroke="#bdbdbd" stroke-width="0.9"/>
<text x="414.40" y="313.20" font-size="8.7" text-anchor="end" fill="#000">0.06</text>
<text x="414.40" y="373.44" font-size="8.7" text-anchor="end" fill="#000">0</text>
<text x="414.40" y="413.60" font-size="8.7" text-anchor="end" fill="#000">-0.04</text>
<text x="417.80" y="421.80" font-size="8.7" text-anchor="middle" fill="#000">400</text>
<text x="478.70" y="421.80" font-size="8.7" text-anchor="middle" fill="#000">450</text>
<text x="539.60" y="421.80" font-size="8.7" text-anchor="middle" fill="#000">500</text>
<text x="478.70" y="433.10" font-size="9" text-anchor="middle" fill="#000" textLength="68.3" lengthAdjust="spacingAndGlyphs">Wavelength (nm)</text>
<text transform="translate(390.60,361.10) rotate(-90)" x="0" y="0" font-size="9" text-anchor="middle" fill="#000" textLength="47.4" lengthAdjust="spacingAndGlyphs">Absorbance</text>
<rect x="562.7" y="384.3" width="29.3" height="5.3" fill="#000"/>
<rect x="562.7" y="405.9" width="29.3" height="5.5" fill="#f00"/>
<text x="599.20" y="390.80" font-size="11.5" text-anchor="start" fill="#000" textLength="35.5" lengthAdjust="spacingAndGlyphs">Control</text>
<text x="599.20" y="412.60" font-size="11.5" text-anchor="start" fill="#000" textLength="59.3" lengthAdjust="spacingAndGlyphs">5-ALA + Fe<tspan font-size="7" dy="-4.3">2+</tspan></text>
<text x="77.70" y="531.30" font-size="9.5" text-anchor="end" fill="#000">0</text>
<line x1="87.3" y1="511.90" x2="207.5" y2="511.90" stroke="#d9d9d9" stroke-width="0.8"/>
<text x="77.70" y="515.20" font-size="9.5" text-anchor="end" fill="#000">50</text>
<line x1="87.3" y1="495.80" x2="207.5" y2="495.80" stroke="#d9d9d9" stroke-width="0.8"/>
<text x="77.70" y="499.10" font-size="9.5" text-anchor="end" fill="#000">100</text>
<line x1="87.3" y1="479.70" x2="207.5" y2="479.70" stroke="#d9d9d9" stroke-width="0.8"/>
<text x="77.70" y="483.00" font-size="9.5" text-anchor="end" fill="#000">150</text>
<line x1="87.3" y1="463.60" x2="207.5" y2="463.60" stroke="#d9d9d9" stroke-width="0.8"/>
<text x="77.70" y="466.90" font-size="9.5" text-anchor="end" fill="#000">200</text>
<rect x="94.40" y="516.41" width="6.6" height="11.59" fill="#000"/>
<rect x="114.36" y="509.65" width="6.6" height="18.35" fill="#f00"/>
<rect x="134.32" y="511.58" width="6.6" height="16.42" fill="#000"/>
<line x1="157.58" y1="467.79" x2="157.58" y2="470.68" stroke="#222" stroke-width="0.7"/>
<line x1="156.18" y1="467.79" x2="158.98" y2="467.79" stroke="#222" stroke-width="0.7"/>
<rect x="154.28" y="470.68" width="6.6" height="57.32" fill="#f00"/>
<rect x="174.24" y="510.93" width="6.6" height="17.07" fill="#000"/>
<line x1="197.50" y1="484.85" x2="197.50" y2="488.07" stroke="#222" stroke-width="0.7"/>
<line x1="196.10" y1="484.85" x2="198.90" y2="484.85" stroke="#222" stroke-width="0.7"/>
<rect x="194.20" y="488.07" width="6.6" height="39.93" fill="#f00"/>
<line x1="87.3" y1="458.2" x2="87.3" y2="528.0" stroke="#7f7f7f" stroke-width="0.9"/>
<line x1="87.3" y1="528.0" x2="207.5" y2="528.0" stroke="#7f7f7f" stroke-width="0.9"/>
<line x1="97.70" y1="540.60" x2="97.70" y2="540.60"/>
<rect x="95.30" y="540.15" width="4.8" height="0.9" fill="#222"/>
<rect x="115.36" y="540.15" width="4.6" height="0.9" fill="#222"/>
<rect x="117.21" y="538.30" width="0.9" height="4.6" fill="#222"/>
<line x1="97.70" y1="547.60" x2="117.66" y2="547.60" stroke="#bfbfbf" stroke-width="0.9"/>
<text x="107.68" y="560.40" font-size="9.3" text-anchor="middle" fill="#000" textLength="18.3" lengthAdjust="spacingAndGlyphs">24 h</text>
<line x1="137.62" y1="540.60" x2="137.62" y2="540.60"/>
<rect x="135.22" y="540.15" width="4.8" height="0.9" fill="#222"/>
<rect x="155.28" y="540.15" width="4.6" height="0.9" fill="#222"/>
<rect x="157.13" y="538.30" width="0.9" height="4.6" fill="#222"/>
<line x1="137.62" y1="547.60" x2="157.58" y2="547.60" stroke="#bfbfbf" stroke-width="0.9"/>
<text x="147.60" y="560.40" font-size="9.3" text-anchor="middle" fill="#000" textLength="18.3" lengthAdjust="spacingAndGlyphs">48 h</text>
<line x1="177.54" y1="540.60" x2="177.54" y2="540.60"/>
<rect x="175.14" y="540.15" width="4.8" height="0.9" fill="#222"/>
<rect x="195.20" y="540.15" width="4.6" height="0.9" fill="#222"/>
<rect x="197.05" y="538.30" width="0.9" height="4.6" fill="#222"/>
<line x1="177.54" y1="547.60" x2="197.50" y2="547.60" stroke="#bfbfbf" stroke-width="0.9"/>
<text x="187.52" y="560.40" font-size="9.3" text-anchor="middle" fill="#000" textLength="18.3" lengthAdjust="spacingAndGlyphs">72 h</text>
<line x1="97.70" y1="496.50" x2="117.66" y2="496.50" stroke="#333" stroke-width="0.8"/>
<text x="107.68" y="497.10" font-size="10" text-anchor="middle" fill="#222" textLength="17.5" lengthAdjust="spacingAndGlyphs" style="stroke-width:0.1px;stroke:#222">****</text>
<line x1="137.62" y1="454.30" x2="157.58" y2="454.30" stroke="#333" stroke-width="0.8"/>
<text x="147.60" y="454.90" font-size="10" text-anchor="middle" fill="#222" textLength="17.5" lengthAdjust="spacingAndGlyphs" style="stroke-width:0.1px;stroke:#222">****</text>
<line x1="177.54" y1="471.60" x2="197.50" y2="471.60" stroke="#333" stroke-width="0.8"/>
<text x="187.52" y="472.20" font-size="10" text-anchor="middle" fill="#222" textLength="17.5" lengthAdjust="spacingAndGlyphs" style="stroke-width:0.1px;stroke:#222">****</text>
<text x="117.66" y="506.30" font-size="7.3" text-anchor="middle" fill="#222" textLength="15.2" lengthAdjust="spacingAndGlyphs" font-style="italic" style="stroke-width:0.05px;stroke:#222">####</text>
<text x="157.58" y="464.10" font-size="7.3" text-anchor="middle" fill="#222" textLength="15.2" lengthAdjust="spacingAndGlyphs" font-style="italic" style="stroke-width:0.05px;stroke:#222">####</text>
<text x="197.50" y="480.80" font-size="7.3" text-anchor="middle" fill="#222" textLength="15.2" lengthAdjust="spacingAndGlyphs" font-style="italic" style="stroke-width:0.05px;stroke:#222">####</text>
<text transform="translate(41.30,490.40) rotate(-90)" x="0" y="0" font-size="9.5" text-anchor="middle" fill="#000" textLength="51.4" lengthAdjust="spacingAndGlyphs">CYP content</text>
<text transform="translate(54.30,490.40) rotate(-90)" x="0" y="0" font-size="9.5" text-anchor="middle" fill="#000" textLength="78" lengthAdjust="spacingAndGlyphs">(pmol/mg protein)</text>
<text x="82.80" y="544.30" font-size="9.0" text-anchor="end" textLength="51.5" lengthAdjust="spacingAndGlyphs">5-ALA + Fe<tspan font-size="5.58" dy="-2.88">2+</tspan></text>
<text x="147.30" y="577.60" font-size="10" text-anchor="middle" fill="#000" textLength="33.2" lengthAdjust="spacingAndGlyphs">CYP1A2</text>
<text x="286.20" y="531.30" font-size="9.5" text-anchor="end" fill="#000">0</text>
<line x1="295.8" y1="506.57" x2="416.2" y2="506.57" stroke="#d9d9d9" stroke-width="0.8"/>
<text x="286.20" y="509.87" font-size="9.5" text-anchor="end" fill="#000">100</text>
<line x1="295.8" y1="485.13" x2="416.2" y2="485.13" stroke="#d9d9d9" stroke-width="0.8"/>
<text x="286.20" y="488.43" font-size="9.5" text-anchor="end" fill="#000">200</text>
<line x1="295.8" y1="463.70" x2="416.2" y2="463.70" stroke="#d9d9d9" stroke-width="0.8"/>
<text x="286.20" y="467.00" font-size="9.5" text-anchor="end" fill="#000">300</text>
<rect x="302.90" y="522.86" width="6.6" height="5.14" fill="#000"/>
<rect x="322.86" y="513.85" width="6.6" height="14.15" fill="#f00"/>
<rect x="342.82" y="513.43" width="6.6" height="14.57" fill="#000"/>
<line x1="366.08" y1="486.42" x2="366.08" y2="486.85" stroke="#222" stroke-width="0.7"/>
<line x1="364.68" y1="486.42" x2="367.48" y2="486.42" stroke="#222" stroke-width="0.7"/>
<rect x="362.78" y="486.85" width="6.6" height="41.15" fill="#f00"/>
<rect x="382.74" y="514.07" width="6.6" height="13.93" fill="#000"/>
<line x1="406.00" y1="488.13" x2="406.00" y2="488.78" stroke="#222" stroke-width="0.7"/>
<line x1="404.60" y1="488.13" x2="407.40" y2="488.13" stroke="#222" stroke-width="0.7"/>
<rect x="402.70" y="488.78" width="6.6" height="39.22" fill="#f00"/>
<line x1="295.8" y1="458.5" x2="295.8" y2="528.0" stroke="#7f7f7f" stroke-width="0.9"/>
<line x1="295.8" y1="528.0" x2="416.2" y2="528.0" stroke="#7f7f7f" stroke-width="0.9"/>
<line x1="306.20" y1="540.60" x2="306.20" y2="540.60"/>
<rect x="303.80" y="540.15" width="4.8" height="0.9" fill="#222"/>
<rect x="323.86" y="540.15" width="4.6" height="0.9" fill="#222"/>
<rect x="325.71" y="538.30" width="0.9" height="4.6" fill="#222"/>
<line x1="306.20" y1="547.60" x2="326.16" y2="547.60" stroke="#bfbfbf" stroke-width="0.9"/>
<text x="316.18" y="560.60" font-size="9.3" text-anchor="middle" fill="#000" textLength="18.3" lengthAdjust="spacingAndGlyphs">24 h</text>
<line x1="346.12" y1="540.60" x2="346.12" y2="540.60"/>
<rect x="343.72" y="540.15" width="4.8" height="0.9" fill="#222"/>
<rect x="363.78" y="540.15" width="4.6" height="0.9" fill="#222"/>
<rect x="365.63" y="538.30" width="0.9" height="4.6" fill="#222"/>
<line x1="346.12" y1="547.60" x2="366.08" y2="547.60" stroke="#bfbfbf" stroke-width="0.9"/>
<text x="356.10" y="560.60" font-size="9.3" text-anchor="middle" fill="#000" textLength="18.3" lengthAdjust="spacingAndGlyphs">48 h</text>
<line x1="386.04" y1="540.60" x2="386.04" y2="540.60"/>
<rect x="383.64" y="540.15" width="4.8" height="0.9" fill="#222"/>
<rect x="403.70" y="540.15" width="4.6" height="0.9" fill="#222"/>
<rect x="405.55" y="538.30" width="0.9" height="4.6" fill="#222"/>
<line x1="386.04" y1="547.60" x2="406.00" y2="547.60" stroke="#bfbfbf" stroke-width="0.9"/>
<text x="396.02" y="560.60" font-size="9.3" text-anchor="middle" fill="#000" textLength="18.3" lengthAdjust="spacingAndGlyphs">72 h</text>
<line x1="306.20" y1="501.50" x2="326.16" y2="501.50" stroke="#333" stroke-width="0.8"/>
<text x="316.18" y="502.10" font-size="10" text-anchor="middle" fill="#222" textLength="17.5" lengthAdjust="spacingAndGlyphs" style="stroke-width:0.1px;stroke:#222">****</text>
<line x1="346.12" y1="474.30" x2="366.08" y2="474.30" stroke="#333" stroke-width="0.8"/>
<text x="356.10" y="474.90" font-size="10" text-anchor="middle" fill="#222" textLength="17.5" lengthAdjust="spacingAndGlyphs" style="stroke-width:0.1px;stroke:#222">****</text>
<line x1="386.04" y1="475.50" x2="406.00" y2="475.50" stroke="#333" stroke-width="0.8"/>
<text x="396.02" y="476.10" font-size="10" text-anchor="middle" fill="#222" textLength="17.5" lengthAdjust="spacingAndGlyphs" style="stroke-width:0.1px;stroke:#222">****</text>
<text x="326.16" y="511.10" font-size="7.3" text-anchor="middle" fill="#222" textLength="15.2" lengthAdjust="spacingAndGlyphs" font-style="italic" style="stroke-width:0.05px;stroke:#222">####</text>
<text x="366.08" y="483.20" font-size="7.3" text-anchor="middle" fill="#222" textLength="15.2" lengthAdjust="spacingAndGlyphs" font-style="italic" style="stroke-width:0.05px;stroke:#222">####</text>
<text x="406.00" y="483.90" font-size="7.3" text-anchor="middle" fill="#222" textLength="15.2" lengthAdjust="spacingAndGlyphs" font-style="italic" style="stroke-width:0.05px;stroke:#222">####</text>
<text transform="translate(251.00,490.30) rotate(-90)" x="0" y="0" font-size="9.5" text-anchor="middle" fill="#000" textLength="51.4" lengthAdjust="spacingAndGlyphs">CYP content</text>
<text transform="translate(263.70,490.90) rotate(-90)" x="0" y="0" font-size="9.5" text-anchor="middle" fill="#000" textLength="78" lengthAdjust="spacingAndGlyphs">(pmol/mg protein)</text>
<text x="291.00" y="544.30" font-size="9.0" text-anchor="end" textLength="51.5" lengthAdjust="spacingAndGlyphs">5-ALA + Fe<tspan font-size="5.58" dy="-2.88">2+</tspan></text>
<text x="355.60" y="578.30" font-size="10" text-anchor="middle" fill="#000" textLength="32.7" lengthAdjust="spacingAndGlyphs">CYP2C9</text>
<text x="494.60" y="531.30" font-size="9.5" text-anchor="end" fill="#000">0</text>
<line x1="504.2" y1="511.77" x2="623.7" y2="511.77" stroke="#d9d9d9" stroke-width="0.8"/>
<text x="494.60" y="515.07" font-size="9.5" text-anchor="end" fill="#000">100</text>
<line x1="504.2" y1="495.55" x2="623.7" y2="495.55" stroke="#d9d9d9" stroke-width="0.8"/>
<text x="494.60" y="498.85" font-size="9.5" text-anchor="end" fill="#000">200</text>
<line x1="504.2" y1="479.33" x2="623.7" y2="479.33" stroke="#d9d9d9" stroke-width="0.8"/>
<text x="494.60" y="482.63" font-size="9.5" text-anchor="end" fill="#000">300</text>
<line x1="504.2" y1="463.10" x2="623.7" y2="463.10" stroke="#d9d9d9" stroke-width="0.8"/>
<text x="494.60" y="466.40" font-size="9.5" text-anchor="end" fill="#000">400</text>
<rect x="511.20" y="523.78" width="6.6" height="4.22" fill="#000"/>
<line x1="534.46" y1="502.69" x2="534.46" y2="505.29" stroke="#222" stroke-width="0.7"/>
<line x1="533.06" y1="502.69" x2="535.86" y2="502.69" stroke="#222" stroke-width="0.7"/>
<rect x="531.16" y="505.29" width="6.6" height="22.71" fill="#f00"/>
<rect x="551.12" y="513.40" width="6.6" height="14.60" fill="#000"/>
<line x1="574.38" y1="476.40" x2="574.38" y2="477.70" stroke="#222" stroke-width="0.7"/>
<line x1="572.98" y1="476.40" x2="575.78" y2="476.40" stroke="#222" stroke-width="0.7"/>
<rect x="571.08" y="477.70" width="6.6" height="50.30" fill="#f00"/>
<rect x="591.04" y="508.21" width="6.6" height="19.79" fill="#000"/>
<line x1="614.30" y1="495.87" x2="614.30" y2="496.85" stroke="#222" stroke-width="0.7"/>
<line x1="612.90" y1="495.87" x2="615.70" y2="495.87" stroke="#222" stroke-width="0.7"/>
<rect x="611.00" y="496.85" width="6.6" height="31.15" fill="#f00"/>
<line x1="504.2" y1="458.3" x2="504.2" y2="528.0" stroke="#7f7f7f" stroke-width="0.9"/>
<line x1="504.2" y1="528.0" x2="623.7" y2="528.0" stroke="#7f7f7f" stroke-width="0.9"/>
<line x1="514.50" y1="540.60" x2="514.50" y2="540.60"/>
<rect x="512.10" y="540.15" width="4.8" height="0.9" fill="#222"/>
<rect x="532.16" y="540.15" width="4.6" height="0.9" fill="#222"/>
<rect x="534.01" y="538.30" width="0.9" height="4.6" fill="#222"/>
<line x1="514.50" y1="547.40" x2="534.46" y2="547.40" stroke="#bfbfbf" stroke-width="0.9"/>
<text x="524.48" y="560.80" font-size="9.3" text-anchor="middle" fill="#000" textLength="18.3" lengthAdjust="spacingAndGlyphs">24 h</text>
<line x1="554.42" y1="540.60" x2="554.42" y2="540.60"/>
<rect x="552.02" y="540.15" width="4.8" height="0.9" fill="#222"/>
<rect x="572.08" y="540.15" width="4.6" height="0.9" fill="#222"/>
<rect x="573.93" y="538.30" width="0.9" height="4.6" fill="#222"/>
<line x1="554.42" y1="547.40" x2="574.38" y2="547.40" stroke="#bfbfbf" stroke-width="0.9"/>
<text x="564.40" y="560.80" font-size="9.3" text-anchor="middle" fill="#000" textLength="18.3" lengthAdjust="spacingAndGlyphs">48 h</text>
<line x1="594.34" y1="540.60" x2="594.34" y2="540.60"/>
<rect x="591.94" y="540.15" width="4.8" height="0.9" fill="#222"/>
<rect x="612.00" y="540.15" width="4.6" height="0.9" fill="#222"/>
<rect x="613.85" y="538.30" width="0.9" height="4.6" fill="#222"/>
<line x1="594.34" y1="547.40" x2="614.30" y2="547.40" stroke="#bfbfbf" stroke-width="0.9"/>
<text x="604.32" y="560.80" font-size="9.3" text-anchor="middle" fill="#000" textLength="18.3" lengthAdjust="spacingAndGlyphs">72 h</text>
<line x1="514.50" y1="488.80" x2="534.46" y2="488.80" stroke="#333" stroke-width="0.8"/>
<text x="524.48" y="489.40" font-size="10" text-anchor="middle" fill="#222" textLength="17.5" lengthAdjust="spacingAndGlyphs" style="stroke-width:0.1px;stroke:#222">****</text>
<line x1="554.42" y1="462.10" x2="574.38" y2="462.10" stroke="#333" stroke-width="0.8"/>
<text x="564.40" y="462.70" font-size="10" text-anchor="middle" fill="#222" textLength="17.5" lengthAdjust="spacingAndGlyphs" style="stroke-width:0.1px;stroke:#222">****</text>
<line x1="594.34" y1="482.20" x2="614.30" y2="482.20" stroke="#333" stroke-width="0.8"/>
<text x="604.32" y="482.80" font-size="10" text-anchor="middle" fill="#222" textLength="17.5" lengthAdjust="spacingAndGlyphs" style="stroke-width:0.1px;stroke:#222">****</text>
<text x="534.46" y="499.60" font-size="7.3" text-anchor="middle" fill="#222" textLength="15.2" lengthAdjust="spacingAndGlyphs" font-style="italic" style="stroke-width:0.05px;stroke:#222">####</text>
<text x="574.38" y="473.20" font-size="7.3" text-anchor="middle" fill="#222" textLength="15.2" lengthAdjust="spacingAndGlyphs" font-style="italic" style="stroke-width:0.05px;stroke:#222">####</text>
<text x="614.30" y="492.70" font-size="7.3" text-anchor="middle" fill="#222" textLength="15.2" lengthAdjust="spacingAndGlyphs" font-style="italic" style="stroke-width:0.05px;stroke:#222">####</text>
<text transform="translate(457.60,491.10) rotate(-90)" x="0" y="0" font-size="9.5" text-anchor="middle" fill="#000" textLength="50.3" lengthAdjust="spacingAndGlyphs">CYP content</text>
<text transform="translate(472.10,490.30) rotate(-90)" x="0" y="0" font-size="9.5" text-anchor="middle" fill="#000" textLength="77" lengthAdjust="spacingAndGlyphs">(pmol/mg protein)</text>
<text x="498.50" y="544.30" font-size="9.0" text-anchor="end" textLength="51.5" lengthAdjust="spacingAndGlyphs">5-ALA + Fe<tspan font-size="5.58" dy="-2.88">2+</tspan></text>
<text x="563.20" y="578.00" font-size="10" text-anchor="middle" fill="#000" textLength="32.5" lengthAdjust="spacingAndGlyphs">CYP3A4</text>
<text x="1.60" y="608.00" font-size="17" text-anchor="start" fill="#000" textLength="8.5" lengthAdjust="spacingAndGlyphs" style="stroke-width:0.1px">B</text>
<text x="94.80" y="615.40" font-size="10" text-anchor="middle" fill="#000" textLength="18.5" lengthAdjust="spacingAndGlyphs">24 h</text>
<line x1="82.00" y1="622.3" x2="108.60" y2="622.3" stroke="#bfbfbf" stroke-width="0.9"/>
<rect x="79.60" y="629.55" width="4.8" height="0.9" fill="#222"/>
<rect x="106.20" y="629.55" width="4.6" height="0.9" fill="#222"/>
<rect x="108.05" y="627.70" width="0.9" height="4.6" fill="#222"/>
<text x="145.20" y="615.40" font-size="10" text-anchor="middle" fill="#000" textLength="18.5" lengthAdjust="spacingAndGlyphs">48 h</text>
<line x1="134.90" y1="622.3" x2="162.60" y2="622.3" stroke="#bfbfbf" stroke-width="0.9"/>
<rect x="132.50" y="629.55" width="4.8" height="0.9" fill="#222"/>
<rect x="159.20" y="629.55" width="4.6" height="0.9" fill="#222"/>
<rect x="161.05" y="627.70" width="0.9" height="4.6" fill="#222"/>
<text x="198.40" y="615.40" font-size="10" text-anchor="middle" fill="#000" textLength="18.5" lengthAdjust="spacingAndGlyphs">72 h</text>
<line x1="187.40" y1="622.3" x2="214.80" y2="622.3" stroke="#bfbfbf" stroke-width="0.9"/>
<rect x="185.30" y="629.55" width="4.8" height="0.9" fill="#222"/>
<rect x="211.60" y="629.55" width="4.6" height="0.9" fill="#222"/>
<rect x="213.45" y="627.70" width="0.9" height="4.6" fill="#222"/>
<text x="63.90" y="633.20" font-size="9.0" text-anchor="end" textLength="51.5" lengthAdjust="spacingAndGlyphs">5-ALA + Fe<tspan font-size="5.58" dy="-2.88">2+</tspan></text>
<text x="62.10" y="663.40" font-size="9.3" text-anchor="end" fill="#000" textLength="35.1" lengthAdjust="spacingAndGlyphs">Calnexin</text>
<text x="60.40" y="698.10" font-size="9.3" text-anchor="end" fill="#000" textLength="32.4" lengthAdjust="spacingAndGlyphs">CYP1A2</text>
<rect x="68.2" y="643.6" width="160.00" height="69.40" fill="#f7f7f7"/>
<rect x="72.35" y="645.60" width="22.30" height="32.00" fill="#000" opacity="0.015" filter="url(#bl2)"/>
<rect x="98.45" y="645.60" width="22.90" height="32.00" fill="#000" opacity="0.015" filter="url(#bl2)"/>
<rect x="125.15" y="645.60" width="22.90" height="32.00" fill="#000" opacity="0.015" filter="url(#bl2)"/>
<rect x="151.80" y="645.60" width="23.00" height="32.00" fill="#000" opacity="0.015" filter="url(#bl2)"/>
<rect x="177.85" y="645.60" width="22.30" height="32.00" fill="#000" opacity="0.015" filter="url(#bl2)"/>
<rect x="203.65" y="645.60" width="21.70" height="32.00" fill="#000" opacity="0.015" filter="url(#bl2)"/>
<rect x="72.95" y="679.60" width="21.70" height="31.40" fill="#000" opacity="0.015" filter="url(#bl2)"/>
<rect x="98.45" y="679.60" width="22.70" height="31.40" fill="#000" opacity="0.015" filter="url(#bl2)"/>
<rect x="125.15" y="679.60" width="22.90" height="31.40" fill="#000" opacity="0.015" filter="url(#bl2)"/>
<rect x="151.80" y="679.60" width="23.00" height="31.40" fill="#000" opacity="0.015" filter="url(#bl2)"/>
<rect x="177.85" y="679.60" width="22.30" height="31.40" fill="#000" opacity="0.015" filter="url(#bl2)"/>
<rect x="203.65" y="679.60" width="21.70" height="31.40" fill="#000" opacity="0.015" filter="url(#bl2)"/>
<rect x="71.85" y="656.70" width="23.30" height="12.40" fill="#000" opacity="0.07" filter="url(#bl2)"/>
<rect x="72.85" y="647.90" width="21.30" height="14" fill="#000" opacity="0.03" filter="url(#bl2)"/>
<rect x="71.85" y="660.25" width="23.30" height="5.30" rx="2.01" fill="#080808" filter="url(#bl)"/>
<rect x="97.95" y="656.10" width="23.90" height="12.00" fill="#000" opacity="0.07" filter="url(#bl2)"/>
<rect x="98.95" y="647.10" width="21.90" height="14" fill="#000" opacity="0.03" filter="url(#bl2)"/>
<rect x="97.95" y="659.65" width="23.90" height="4.90" rx="1.86" fill="#080808" filter="url(#bl)"/>
<rect x="124.65" y="654.90" width="23.90" height="13.00" fill="#000" opacity="0.07" filter="url(#bl2)"/>
<rect x="125.65" y="646.40" width="21.90" height="14" fill="#000" opacity="0.08" filter="url(#bl2)"/>
<rect x="124.65" y="658.45" width="23.90" height="5.90" rx="2.24" fill="#080808" filter="url(#bl)"/>
<rect x="151.30" y="653.90" width="24.00" height="12.80" fill="#000" opacity="0.07" filter="url(#bl2)"/>
<rect x="152.30" y="646.30" width="22.00" height="13" fill="#000" opacity="0.08" filter="url(#bl2)"/>
<rect x="151.30" y="657.45" width="24.00" height="5.70" rx="2.17" fill="#080808" filter="url(#bl)"/>
<rect x="177.35" y="653.35" width="23.30" height="13.10" fill="#000" opacity="0.07" filter="url(#bl2)"/>
<rect x="178.35" y="645.90" width="21.30" height="13" fill="#000" opacity="0.09" filter="url(#bl2)"/>
<rect x="177.35" y="656.90" width="23.30" height="6.00" rx="2.28" fill="#080808" filter="url(#bl)"/>
<rect x="203.15" y="652.00" width="22.70" height="14.00" fill="#000" opacity="0.07" filter="url(#bl2)"/>
<rect x="204.15" y="646.00" width="20.70" height="12" fill="#000" opacity="0.08" filter="url(#bl2)"/>
<rect x="203.15" y="655.55" width="22.70" height="6.90" rx="2.62" fill="#080808" filter="url(#bl)"/>
<rect x="72.45" y="689.60" width="22.70" height="11.40" fill="#000" opacity="0.07" filter="url(#bl2)"/>
<rect x="73.45" y="695.30" width="20.70" height="7" fill="#000" opacity="0.1" filter="url(#bl2)"/>
<rect x="72.45" y="693.15" width="22.70" height="4.30" rx="1.63" fill="#181818" filter="url(#bl)"/>
<rect x="97.95" y="688.80" width="23.70" height="12.40" fill="#000" opacity="0.07" filter="url(#bl2)"/>
<rect x="98.95" y="695.00" width="21.70" height="9" fill="#000" opacity="0.18" filter="url(#bl2)"/>
<rect x="97.95" y="692.35" width="23.70" height="5.30" rx="2.01" fill="#080808" filter="url(#bl)"/>
<rect x="124.65" y="687.60" width="23.90" height="13.00" fill="#000" opacity="0.07" filter="url(#bl2)"/>
<rect x="125.65" y="681.10" width="21.90" height="12" fill="#000" opacity="0.08" filter="url(#bl2)"/>
<rect x="125.65" y="694.10" width="21.90" height="7" fill="#000" opacity="0.08" filter="url(#bl2)"/>
<rect x="124.65" y="691.15" width="23.90" height="5.90" rx="2.24" fill="#080808" filter="url(#bl)"/>
<rect x="151.30" y="687.05" width="24.00" height="14.50" fill="#000" opacity="0.07" filter="url(#bl2)"/>
<rect x="152.30" y="681.30" width="22.00" height="12" fill="#000" opacity="0.2" filter="url(#bl2)"/>
<rect x="152.30" y="694.30" width="22.00" height="7" fill="#000" opacity="0.3" filter="url(#bl2)"/>
<rect x="151.30" y="690.60" width="24.00" height="7.40" rx="2.81" fill="#000" filter="url(#bl)"/>
<rect x="177.35" y="688.15" width="23.30" height="10.70" fill="#000" opacity="0.07" filter="url(#bl2)"/>
<rect x="178.35" y="680.50" width="21.30" height="12" fill="#000" opacity="0.08" filter="url(#bl2)"/>
<rect x="178.35" y="693.50" width="21.30" height="7" fill="#000" opacity="0.08" filter="url(#bl2)"/>
<rect x="177.35" y="691.70" width="23.30" height="3.60" rx="1.37" fill="#2a2a2a" filter="url(#bl)"/>
<rect x="203.15" y="686.55" width="22.70" height="13.30" fill="#000" opacity="0.07" filter="url(#bl2)"/>
<rect x="204.15" y="680.20" width="20.70" height="12" fill="#000" opacity="0.08" filter="url(#bl2)"/>
<rect x="204.15" y="693.20" width="20.70" height="8" fill="#000" opacity="0.18" filter="url(#bl2)"/>
<rect x="203.15" y="690.10" width="22.70" height="6.20" rx="2.36" fill="#080808" filter="url(#bl)"/>
<rect x="69.50" y="644.90" width="157.40" height="66.80" fill="none" stroke="#000" stroke-width="2.6"/>
<rect x="68.20" y="676.90" width="160.00" height="3.4" fill="#000"/>
<text x="319.10" y="616.00" font-size="10" text-anchor="middle" fill="#000" textLength="18.5" lengthAdjust="spacingAndGlyphs">24 h</text>
<line x1="306.00" y1="621.5" x2="333.20" y2="621.5" stroke="#bfbfbf" stroke-width="0.9"/>
<rect x="304.30" y="629.55" width="4.8" height="0.9" fill="#222"/>
<rect x="330.30" y="629.55" width="4.6" height="0.9" fill="#222"/>
<rect x="332.15" y="627.70" width="0.9" height="4.6" fill="#222"/>
<text x="372.50" y="616.00" font-size="10" text-anchor="middle" fill="#000" textLength="18.5" lengthAdjust="spacingAndGlyphs">48 h</text>
<line x1="358.40" y1="621.5" x2="385.60" y2="621.5" stroke="#bfbfbf" stroke-width="0.9"/>
<rect x="357.40" y="629.55" width="4.8" height="0.9" fill="#222"/>
<rect x="382.70" y="629.55" width="4.6" height="0.9" fill="#222"/>
<rect x="384.55" y="627.70" width="0.9" height="4.6" fill="#222"/>
<text x="424.60" y="616.00" font-size="10" text-anchor="middle" fill="#000" textLength="18.5" lengthAdjust="spacingAndGlyphs">72 h</text>
<line x1="412.10" y1="621.5" x2="438.70" y2="621.5" stroke="#bfbfbf" stroke-width="0.9"/>
<rect x="409.40" y="629.55" width="4.8" height="0.9" fill="#222"/>
<rect x="435.20" y="629.55" width="4.6" height="0.9" fill="#222"/>
<rect x="437.05" y="627.70" width="0.9" height="4.6" fill="#222"/>
<text x="287.60" y="633.20" font-size="9.0" text-anchor="end" textLength="51.5" lengthAdjust="spacingAndGlyphs">5-ALA + Fe<tspan font-size="5.58" dy="-2.88">2+</tspan></text>
<text x="286.20" y="663.45" font-size="9.3" text-anchor="end" fill="#000" textLength="34.7" lengthAdjust="spacingAndGlyphs">Calnexin</text>
<text x="285.60" y="698.00" font-size="9.3" text-anchor="end" fill="#000" textLength="32.7" lengthAdjust="spacingAndGlyphs">CYP2C9</text>
<rect x="292.4" y="643.8" width="159.60" height="69.10" fill="#f7f7f7"/>
<rect x="296.70" y="645.80" width="21.60" height="31.70" fill="#000" opacity="0.015" filter="url(#bl2)"/>
<rect x="323.10" y="645.80" width="22.20" height="31.70" fill="#000" opacity="0.015" filter="url(#bl2)"/>
<rect x="349.90" y="645.80" width="21.80" height="31.70" fill="#000" opacity="0.015" filter="url(#bl2)"/>
<rect x="375.80" y="645.80" width="21.60" height="31.70" fill="#000" opacity="0.015" filter="url(#bl2)"/>
<rect x="401.70" y="645.80" width="20.60" height="31.70" fill="#000" opacity="0.015" filter="url(#bl2)"/>
<rect x="426.50" y="645.80" width="21.60" height="31.70" fill="#000" opacity="0.015" filter="url(#bl2)"/>
<rect x="297.30" y="679.50" width="21.00" height="31.40" fill="#000" opacity="0.015" filter="url(#bl2)"/>
<rect x="323.70" y="679.50" width="21.00" height="31.40" fill="#000" opacity="0.015" filter="url(#bl2)"/>
<rect x="350.30" y="679.50" width="21.00" height="31.40" fill="#000" opacity="0.015" filter="url(#bl2)"/>
<rect x="375.45" y="679.50" width="22.70" height="31.40" fill="#000" opacity="0.015" filter="url(#bl2)"/>
<rect x="402.50" y="679.50" width="19.80" height="31.40" fill="#000" opacity="0.015" filter="url(#bl2)"/>
<rect x="426.85" y="679.50" width="21.30" height="31.40" fill="#000" opacity="0.015" filter="url(#bl2)"/>
<rect x="296.20" y="660.50" width="22.60" height="12.20" fill="#000" opacity="0.07" filter="url(#bl2)"/>
<rect x="296.20" y="664.05" width="22.60" height="5.10" rx="1.94" fill="#080808" filter="url(#bl)"/>
<rect x="322.60" y="660.50" width="23.20" height="11.80" fill="#000" opacity="0.07" filter="url(#bl2)"/>
<rect x="322.60" y="664.05" width="23.20" height="4.70" rx="1.79" fill="#080808" filter="url(#bl)"/>
<rect x="349.40" y="660.10" width="22.80" height="12.60" fill="#000" opacity="0.07" filter="url(#bl2)"/>
<rect x="349.40" y="663.65" width="22.80" height="5.50" rx="2.09" fill="#080808" filter="url(#bl)"/>
<rect x="375.30" y="659.30" width="22.60" height="13.00" fill="#000" opacity="0.07" filter="url(#bl2)"/>
<rect x="375.30" y="662.85" width="22.60" height="5.90" rx="2.24" fill="#080808" filter="url(#bl)"/>
<rect x="401.20" y="659.65" width="21.60" height="12.30" fill="#000" opacity="0.07" filter="url(#bl2)"/>
<rect x="401.20" y="663.20" width="21.60" height="5.20" rx="1.98" fill="#080808" filter="url(#bl)"/>
<rect x="426.00" y="658.90" width="22.60" height="13.40" fill="#000" opacity="0.07" filter="url(#bl2)"/>
<rect x="426.00" y="662.45" width="22.60" height="6.30" rx="2.39" fill="#080808" filter="url(#bl)"/>
<rect x="296.80" y="689.40" width="22.00" height="11.40" fill="#000" opacity="0.07" filter="url(#bl2)"/>
<rect x="297.80" y="695.10" width="20.00" height="7" fill="#000" opacity="0.14" filter="url(#bl2)"/>
<rect x="296.80" y="692.95" width="22.00" height="4.30" rx="1.63" fill="#2a2a2a" filter="url(#bl)"/>
<rect x="323.20" y="689.40" width="22.00" height="11.40" fill="#000" opacity="0.07" filter="url(#bl2)"/>
<rect x="324.20" y="695.10" width="20.00" height="7" fill="#000" opacity="0.14" filter="url(#bl2)"/>
<rect x="323.20" y="692.95" width="22.00" height="4.30" rx="1.63" fill="#2a2a2a" filter="url(#bl)"/>
<rect x="349.80" y="689.40" width="22.00" height="12.20" fill="#000" opacity="0.07" filter="url(#bl2)"/>
<rect x="350.80" y="695.50" width="20.00" height="8" fill="#000" opacity="0.2" filter="url(#bl2)"/>
<rect x="349.80" y="692.95" width="22.00" height="5.10" rx="1.94" fill="#111" filter="url(#bl)"/>
<rect x="374.95" y="687.55" width="23.70" height="15.50" fill="#000" opacity="0.07" filter="url(#bl2)"/>
<rect x="375.95" y="684.30" width="21.70" height="10" fill="#000" opacity="0.12" filter="url(#bl2)"/>
<rect x="375.95" y="695.30" width="21.70" height="9" fill="#000" opacity="0.35" filter="url(#bl2)"/>
<rect x="374.95" y="691.10" width="23.70" height="8.40" rx="3.19" fill="#000" filter="url(#bl)"/>
<rect x="402.00" y="689.45" width="20.80" height="10.90" fill="#000" opacity="0.07" filter="url(#bl2)"/>
<rect x="403.00" y="694.90" width="18.80" height="7" fill="#000" opacity="0.08" filter="url(#bl2)"/>
<rect x="402.00" y="693.00" width="20.80" height="3.80" rx="1.44" fill="#444" filter="url(#bl)"/>
<rect x="426.35" y="688.20" width="22.30" height="13.60" fill="#000" opacity="0.07" filter="url(#bl2)"/>
<rect x="427.35" y="695.00" width="20.30" height="8" fill="#000" opacity="0.25" filter="url(#bl2)"/>
<rect x="426.35" y="691.75" width="22.30" height="6.50" rx="2.47" fill="#080808" filter="url(#bl)"/>
<rect x="293.70" y="645.10" width="157.00" height="66.50" fill="none" stroke="#000" stroke-width="2.6"/>
<rect x="292.40" y="676.80" width="159.60" height="3.4" fill="#000"/>
<text x="543.00" y="615.60" font-size="10" text-anchor="middle" fill="#000" textLength="18.5" lengthAdjust="spacingAndGlyphs">24 h</text>
<line x1="530.40" y1="621.5" x2="556.60" y2="621.5" stroke="#bfbfbf" stroke-width="0.9"/>
<rect x="528.00" y="629.55" width="4.8" height="0.9" fill="#222"/>
<rect x="554.10" y="629.55" width="4.6" height="0.9" fill="#222"/>
<rect x="555.95" y="627.70" width="0.9" height="4.6" fill="#222"/>
<text x="595.90" y="615.60" font-size="10" text-anchor="middle" fill="#000" textLength="18.5" lengthAdjust="spacingAndGlyphs">48 h</text>
<line x1="583.10" y1="621.5" x2="609.30" y2="621.5" stroke="#bfbfbf" stroke-width="0.9"/>
<rect x="581.00" y="629.55" width="4.8" height="0.9" fill="#222"/>
<rect x="607.10" y="629.55" width="4.6" height="0.9" fill="#222"/>
<rect x="608.95" y="627.70" width="0.9" height="4.6" fill="#222"/>
<text x="649.00" y="615.60" font-size="10" text-anchor="middle" fill="#000" textLength="18.5" lengthAdjust="spacingAndGlyphs">72 h</text>
<line x1="634.80" y1="621.5" x2="662.00" y2="621.5" stroke="#bfbfbf" stroke-width="0.9"/>
<rect x="632.90" y="629.55" width="4.8" height="0.9" fill="#222"/>
<rect x="659.10" y="629.55" width="4.6" height="0.9" fill="#222"/>
<rect x="660.95" y="627.70" width="0.9" height="4.6" fill="#222"/>
<text x="512.30" y="633.20" font-size="9.0" text-anchor="end" textLength="51.5" lengthAdjust="spacingAndGlyphs">5-ALA + Fe<tspan font-size="5.58" dy="-2.88">2+</tspan></text>
<text x="510.00" y="663.45" font-size="9.3" text-anchor="end" fill="#000" textLength="35.1" lengthAdjust="spacingAndGlyphs">Calnexin</text>
<text x="510.00" y="698.00" font-size="9.3" text-anchor="end" fill="#000" textLength="34.0" lengthAdjust="spacingAndGlyphs">CYP3A4</text>
<rect x="516.4" y="643.8" width="159.60" height="69.10" fill="#f7f7f7"/>
<rect x="520.30" y="645.80" width="22.40" height="31.70" fill="#000" opacity="0.015" filter="url(#bl2)"/>
<rect x="547.05" y="645.80" width="22.50" height="31.70" fill="#000" opacity="0.015" filter="url(#bl2)"/>
<rect x="573.50" y="645.80" width="22.20" height="31.70" fill="#000" opacity="0.015" filter="url(#bl2)"/>
<rect x="599.70" y="645.80" width="21.60" height="31.70" fill="#000" opacity="0.015" filter="url(#bl2)"/>
<rect x="625.15" y="645.80" width="21.90" height="31.70" fill="#000" opacity="0.015" filter="url(#bl2)"/>
<rect x="650.55" y="645.80" width="22.30" height="31.70" fill="#000" opacity="0.015" filter="url(#bl2)"/>
<rect x="519.35" y="679.50" width="23.30" height="31.40" fill="#000" opacity="0.015" filter="url(#bl2)"/>
<rect x="545.40" y="679.50" width="24.20" height="31.40" fill="#000" opacity="0.015" filter="url(#bl2)"/>
<rect x="572.55" y="679.50" width="23.10" height="31.40" fill="#000" opacity="0.015" filter="url(#bl2)"/>
<rect x="599.30" y="679.50" width="22.40" height="31.40" fill="#000" opacity="0.015" filter="url(#bl2)"/>
<rect x="624.50" y="679.50" width="22.60" height="31.40" fill="#000" opacity="0.015" filter="url(#bl2)"/>
<rect x="650.05" y="679.50" width="22.90" height="31.40" fill="#000" opacity="0.015" filter="url(#bl2)"/>
<rect x="519.80" y="657.05" width="23.40" height="12.70" fill="#000" opacity="0.07" filter="url(#bl2)"/>
<g transform="rotate(-0.80 531.50 663.40)"><rect x="519.80" y="660.60" width="23.40" height="5.60" rx="2.13" fill="#080808" filter="url(#bl)"/></g>
<rect x="546.55" y="656.50" width="23.50" height="13.00" fill="#000" opacity="0.07" filter="url(#bl2)"/>
<g transform="rotate(-0.80 558.30 663.00)"><rect x="546.55" y="660.05" width="23.50" height="5.90" rx="2.24" fill="#080808" filter="url(#bl)"/></g>
<rect x="573.00" y="655.50" width="23.20" height="13.60" fill="#000" opacity="0.07" filter="url(#bl2)"/>
<g transform="rotate(-0.80 584.60 662.30)"><rect x="573.00" y="659.05" width="23.20" height="6.50" rx="2.47" fill="#080808" filter="url(#bl)"/></g>
<rect x="599.20" y="654.30" width="22.60" height="13.00" fill="#000" opacity="0.07" filter="url(#bl2)"/>
<g transform="rotate(-2.20 610.50 660.80)"><rect x="599.20" y="657.85" width="22.60" height="5.90" rx="2.24" fill="#080808" filter="url(#bl)"/></g>
<rect x="624.65" y="653.15" width="22.90" height="13.50" fill="#000" opacity="0.07" filter="url(#bl2)"/>
<g transform="rotate(-2.20 636.10 659.90)"><rect x="624.65" y="656.70" width="22.90" height="6.40" rx="2.43" fill="#080808" filter="url(#bl)"/></g>
<rect x="650.05" y="651.10" width="23.30" height="14.00" fill="#000" opacity="0.07" filter="url(#bl2)"/>
<g transform="rotate(-0.80 661.70 658.10)"><rect x="650.05" y="654.65" width="23.30" height="6.90" rx="2.62" fill="#080808" filter="url(#bl)"/></g>
<rect x="518.85" y="689.40" width="24.30" height="13.00" fill="#000" opacity="0.07" filter="url(#bl2)"/>
<rect x="518.85" y="692.95" width="24.30" height="5.90" rx="2.24" fill="#080808" filter="url(#bl)"/>
<rect x="544.90" y="689.95" width="25.20" height="13.30" fill="#000" opacity="0.07" filter="url(#bl2)"/>
<rect x="544.90" y="693.50" width="25.20" height="6.20" rx="2.36" fill="#080808" filter="url(#bl)"/>
<rect x="572.05" y="689.35" width="24.10" height="13.70" fill="#000" opacity="0.07" filter="url(#bl2)"/>
<rect x="572.05" y="692.90" width="24.10" height="6.60" rx="2.51" fill="#080808" filter="url(#bl)"/>
<rect x="598.80" y="688.90" width="23.40" height="14.00" fill="#000" opacity="0.07" filter="url(#bl2)"/>
<rect x="598.80" y="692.45" width="23.40" height="6.90" rx="2.62" fill="#080808" filter="url(#bl)"/>
<rect x="624.00" y="688.85" width="23.60" height="13.50" fill="#000" opacity="0.07" filter="url(#bl2)"/>
<rect x="624.00" y="692.40" width="23.60" height="6.40" rx="2.43" fill="#080808" filter="url(#bl)"/>
<rect x="649.55" y="688.00" width="23.90" height="14.00" fill="#000" opacity="0.07" filter="url(#bl2)"/>
<rect x="649.55" y="691.55" width="23.90" height="6.90" rx="2.62" fill="#080808" filter="url(#bl)"/>
<rect x="520.00" y="704.80" width="22.00" height="2" fill="#000" opacity="0.07" filter="url(#bl)"/>
<rect x="573.50" y="704.80" width="22.00" height="2" fill="#000" opacity="0.18" filter="url(#bl)"/>
<rect x="599.50" y="704.60" width="22.00" height="2" fill="#000" opacity="0.14" filter="url(#bl)"/>
<rect x="625.00" y="704.60" width="22.00" height="2" fill="#000" opacity="0.12" filter="url(#bl)"/>
<rect x="517.70" y="645.10" width="157.00" height="66.50" fill="none" stroke="#000" stroke-width="2.6"/>
<rect x="516.40" y="676.80" width="159.60" height="3.4" fill="#000"/>
<text x="86.00" y="811.00" font-size="9.5" text-anchor="end" fill="#000">0</text>
<line x1="95.8" y1="792.27" x2="218.4" y2="792.27" stroke="#d9d9d9" stroke-width="0.8"/>
<text x="86.00" y="794.98" font-size="9.5" text-anchor="end" fill="#000">0.5</text>
<line x1="95.8" y1="776.25" x2="218.4" y2="776.25" stroke="#d9d9d9" stroke-width="0.8"/>
<text x="86.00" y="778.95" font-size="9.5" text-anchor="end" fill="#000">1</text>
<line x1="95.8" y1="760.22" x2="218.4" y2="760.22" stroke="#d9d9d9" stroke-width="0.8"/>
<text x="86.00" y="762.92" font-size="9.5" text-anchor="end" fill="#000">1.5</text>
<line x1="95.8" y1="744.20" x2="218.4" y2="744.20" stroke="#d9d9d9" stroke-width="0.8"/>
<text x="86.00" y="746.90" font-size="9.5" text-anchor="end" fill="#000">2</text>
<rect x="103.00" y="776.25" width="6.6" height="32.05" fill="#000"/>
<line x1="126.68" y1="754.46" x2="126.68" y2="757.66" stroke="#222" stroke-width="0.7"/>
<line x1="125.28" y1="754.46" x2="128.08" y2="754.46" stroke="#222" stroke-width="0.7"/>
<rect x="123.38" y="757.66" width="6.6" height="50.64" fill="#f00"/>
<line x1="147.06" y1="774.97" x2="147.06" y2="778.17" stroke="#222" stroke-width="0.7"/>
<line x1="145.66" y1="774.97" x2="148.46" y2="774.97" stroke="#222" stroke-width="0.7"/>
<rect x="143.76" y="778.17" width="6.6" height="30.13" fill="#000"/>
<line x1="167.44" y1="761.19" x2="167.44" y2="764.39" stroke="#222" stroke-width="0.7"/>
<line x1="166.04" y1="761.19" x2="168.84" y2="761.19" stroke="#222" stroke-width="0.7"/>
<rect x="164.14" y="764.39" width="6.6" height="43.91" fill="#f00"/>
<line x1="187.82" y1="782.34" x2="187.82" y2="783.94" stroke="#222" stroke-width="0.7"/>
<line x1="186.42" y1="782.34" x2="189.22" y2="782.34" stroke="#222" stroke-width="0.7"/>
<rect x="184.52" y="783.94" width="6.6" height="24.36" fill="#000"/>
<line x1="208.20" y1="773.04" x2="208.20" y2="776.25" stroke="#222" stroke-width="0.7"/>
<line x1="206.80" y1="773.04" x2="209.60" y2="773.04" stroke="#222" stroke-width="0.7"/>
<rect x="204.90" y="776.25" width="6.6" height="32.05" fill="#f00"/>
<line x1="95.8" y1="739.4" x2="95.8" y2="808.3" stroke="#7f7f7f" stroke-width="0.9"/>
<line x1="95.8" y1="808.3" x2="220.9" y2="808.3" stroke="#7f7f7f" stroke-width="0.9"/>
<text transform="translate(52.30,770.50) rotate(-90)" x="0" y="0" font-size="9.5" text-anchor="middle" fill="#000" textLength="36.2" lengthAdjust="spacingAndGlyphs">Intensity</text>
<text transform="translate(65.50,770.50) rotate(-90)" x="0" y="0" font-size="9.5" text-anchor="middle" fill="#000" textLength="77.6" lengthAdjust="spacingAndGlyphs">(CYP1A2/Calnexin)</text>
<text x="92.90" y="824.00" font-size="9.0" text-anchor="end" textLength="51" lengthAdjust="spacingAndGlyphs">5-ALA + Fe<tspan font-size="5.58" dy="-2.88">2+</tspan></text>
<line x1="108.50" y1="820.50" x2="108.50" y2="820.50"/>
<rect x="106.10" y="820.05" width="4.8" height="0.9" fill="#222"/>
<rect x="126.58" y="820.05" width="4.6" height="0.9" fill="#222"/>
<rect x="128.43" y="818.20" width="0.9" height="4.6" fill="#222"/>
<line x1="108.50" y1="827.60" x2="128.88" y2="827.60" stroke="#bfbfbf" stroke-width="0.9"/>
<text x="118.69" y="840.20" font-size="9.3" text-anchor="middle" fill="#000" textLength="18.6" lengthAdjust="spacingAndGlyphs">24 h</text>
<line x1="149.26" y1="820.50" x2="149.26" y2="820.50"/>
<rect x="146.86" y="820.05" width="4.8" height="0.9" fill="#222"/>
<rect x="167.34" y="820.05" width="4.6" height="0.9" fill="#222"/>
<rect x="169.19" y="818.20" width="0.9" height="4.6" fill="#222"/>
<line x1="149.26" y1="827.60" x2="169.64" y2="827.60" stroke="#bfbfbf" stroke-width="0.9"/>
<text x="159.45" y="840.20" font-size="9.3" text-anchor="middle" fill="#000" textLength="18.6" lengthAdjust="spacingAndGlyphs">48 h</text>
<line x1="190.02" y1="820.50" x2="190.02" y2="820.50"/>
<rect x="187.62" y="820.05" width="4.8" height="0.9" fill="#222"/>
<rect x="208.10" y="820.05" width="4.6" height="0.9" fill="#222"/>
<rect x="209.95" y="818.20" width="0.9" height="4.6" fill="#222"/>
<line x1="190.02" y1="827.60" x2="210.40" y2="827.60" stroke="#bfbfbf" stroke-width="0.9"/>
<text x="200.21" y="840.20" font-size="9.3" text-anchor="middle" fill="#000" textLength="18.6" lengthAdjust="spacingAndGlyphs">72 h</text>
<line x1="107.50" y1="749.30" x2="127.88" y2="749.30" stroke="#333" stroke-width="0.8"/>
<text x="117.69" y="750.70" font-size="10" text-anchor="middle" fill="#222" textLength="13.5" lengthAdjust="spacingAndGlyphs" style="stroke-width:0.1px;stroke:#222">***</text>
<line x1="148.26" y1="756.30" x2="168.64" y2="756.30" stroke="#333" stroke-width="0.8"/>
<text x="158.45" y="757.70" font-size="10" text-anchor="middle" fill="#222" textLength="8.3" lengthAdjust="spacingAndGlyphs" style="stroke-width:0.1px;stroke:#222">**</text>
<line x1="189.02" y1="760.40" x2="209.40" y2="760.40" stroke="#333" stroke-width="0.8"/>
<text x="199.21" y="761.50" font-size="10" text-anchor="middle" fill="#222" textLength="3.5" lengthAdjust="spacingAndGlyphs" style="stroke-width:0.1px;stroke:#222">*</text>
<text x="187.82" y="777.80" font-size="7.3" text-anchor="middle" fill="#222" textLength="3.5" lengthAdjust="spacingAndGlyphs" font-style="italic" style="stroke-width:0.05px;stroke:#222">#</text>
<text x="208.20" y="770.20" font-size="7.3" text-anchor="middle" fill="#222" textLength="11.4" lengthAdjust="spacingAndGlyphs" font-style="italic" style="stroke-width:0.05px;stroke:#222">###</text>
<text x="294.50" y="811.10" font-size="9.5" text-anchor="end" fill="#000">0</text>
<line x1="304.3" y1="792.38" x2="427.0" y2="792.38" stroke="#d9d9d9" stroke-width="0.8"/>
<text x="294.50" y="795.08" font-size="9.5" text-anchor="end" fill="#000">0.5</text>
<line x1="304.3" y1="776.35" x2="427.0" y2="776.35" stroke="#d9d9d9" stroke-width="0.8"/>
<text x="294.50" y="779.05" font-size="9.5" text-anchor="end" fill="#000">1</text>
<line x1="304.3" y1="760.32" x2="427.0" y2="760.32" stroke="#d9d9d9" stroke-width="0.8"/>
<text x="294.50" y="763.02" font-size="9.5" text-anchor="end" fill="#000">1.5</text>
<line x1="304.3" y1="744.30" x2="427.0" y2="744.30" stroke="#d9d9d9" stroke-width="0.8"/>
<text x="294.50" y="747.00" font-size="9.5" text-anchor="end" fill="#000">2</text>
<rect x="311.40" y="776.35" width="6.6" height="32.05" fill="#000"/>
<line x1="335.12" y1="764.17" x2="335.12" y2="767.70" stroke="#222" stroke-width="0.7"/>
<line x1="333.72" y1="764.17" x2="336.52" y2="764.17" stroke="#222" stroke-width="0.7"/>
<rect x="331.82" y="767.70" width="6.6" height="40.70" fill="#f00"/>
<line x1="355.54" y1="765.77" x2="355.54" y2="769.30" stroke="#222" stroke-width="0.7"/>
<line x1="354.14" y1="765.77" x2="356.94" y2="765.77" stroke="#222" stroke-width="0.7"/>
<rect x="352.24" y="769.30" width="6.6" height="39.10" fill="#000"/>
<line x1="375.96" y1="761.93" x2="375.96" y2="765.45" stroke="#222" stroke-width="0.7"/>
<line x1="374.56" y1="761.93" x2="377.36" y2="761.93" stroke="#222" stroke-width="0.7"/>
<rect x="372.66" y="765.45" width="6.6" height="42.95" fill="#f00"/>
<line x1="396.38" y1="769.62" x2="396.38" y2="773.14" stroke="#222" stroke-width="0.7"/>
<line x1="394.98" y1="769.62" x2="397.78" y2="769.62" stroke="#222" stroke-width="0.7"/>
<rect x="393.08" y="773.14" width="6.6" height="35.25" fill="#000"/>
<line x1="416.80" y1="766.41" x2="416.80" y2="769.94" stroke="#222" stroke-width="0.7"/>
<line x1="415.40" y1="766.41" x2="418.20" y2="766.41" stroke="#222" stroke-width="0.7"/>
<rect x="413.50" y="769.94" width="6.6" height="38.46" fill="#f00"/>
<line x1="304.3" y1="739.2" x2="304.3" y2="808.4" stroke="#7f7f7f" stroke-width="0.9"/>
<line x1="304.3" y1="808.4" x2="429.5" y2="808.4" stroke="#7f7f7f" stroke-width="0.9"/>
<text transform="translate(262.10,770.60) rotate(-90)" x="0" y="0" font-size="9.5" text-anchor="middle" fill="#000" textLength="36.2" lengthAdjust="spacingAndGlyphs">Intensity</text>
<text transform="translate(274.60,770.60) rotate(-90)" x="0" y="0" font-size="9.5" text-anchor="middle" fill="#000" textLength="77.6" lengthAdjust="spacingAndGlyphs">(CYP2C9/Calnexin)</text>
<text x="301.30" y="824.00" font-size="9.0" text-anchor="end" textLength="51" lengthAdjust="spacingAndGlyphs">5-ALA + Fe<tspan font-size="5.58" dy="-2.88">2+</tspan></text>
<line x1="316.90" y1="820.50" x2="316.90" y2="820.50"/>
<rect x="314.50" y="820.05" width="4.8" height="0.9" fill="#222"/>
<rect x="335.02" y="820.05" width="4.6" height="0.9" fill="#222"/>
<rect x="336.87" y="818.20" width="0.9" height="4.6" fill="#222"/>
<line x1="316.90" y1="827.60" x2="337.32" y2="827.60" stroke="#bfbfbf" stroke-width="0.9"/>
<text x="327.11" y="840.20" font-size="9.3" text-anchor="middle" fill="#000" textLength="18.6" lengthAdjust="spacingAndGlyphs">24 h</text>
<line x1="357.74" y1="820.50" x2="357.74" y2="820.50"/>
<rect x="355.34" y="820.05" width="4.8" height="0.9" fill="#222"/>
<rect x="375.86" y="820.05" width="4.6" height="0.9" fill="#222"/>
<rect x="377.71" y="818.20" width="0.9" height="4.6" fill="#222"/>
<line x1="357.74" y1="827.60" x2="378.16" y2="827.60" stroke="#bfbfbf" stroke-width="0.9"/>
<text x="367.95" y="840.20" font-size="9.3" text-anchor="middle" fill="#000" textLength="18.6" lengthAdjust="spacingAndGlyphs">48 h</text>
<line x1="398.58" y1="820.50" x2="398.58" y2="820.50"/>
<rect x="396.18" y="820.05" width="4.8" height="0.9" fill="#222"/>
<rect x="416.70" y="820.05" width="4.6" height="0.9" fill="#222"/>
<rect x="418.55" y="818.20" width="0.9" height="4.6" fill="#222"/>
<line x1="398.58" y1="827.60" x2="419.00" y2="827.60" stroke="#bfbfbf" stroke-width="0.9"/>
<text x="408.79" y="840.20" font-size="9.3" text-anchor="middle" fill="#000" textLength="18.6" lengthAdjust="spacingAndGlyphs">72 h</text>
<text x="502.80" y="810.80" font-size="9.5" text-anchor="end" fill="#000">0</text>
<line x1="512.6" y1="792.08" x2="635.8" y2="792.08" stroke="#d9d9d9" stroke-width="0.8"/>
<text x="502.80" y="794.78" font-size="9.5" text-anchor="end" fill="#000">0.5</text>
<line x1="512.6" y1="776.05" x2="635.8" y2="776.05" stroke="#d9d9d9" stroke-width="0.8"/>
<text x="502.80" y="778.75" font-size="9.5" text-anchor="end" fill="#000">1</text>
<line x1="512.6" y1="760.02" x2="635.8" y2="760.02" stroke="#d9d9d9" stroke-width="0.8"/>
<text x="502.80" y="762.73" font-size="9.5" text-anchor="end" fill="#000">1.5</text>
<line x1="512.6" y1="744.00" x2="635.8" y2="744.00" stroke="#d9d9d9" stroke-width="0.8"/>
<text x="502.80" y="746.70" font-size="9.5" text-anchor="end" fill="#000">2</text>
<rect x="520.30" y="776.05" width="6.6" height="32.05" fill="#000"/>
<line x1="543.86" y1="748.49" x2="543.86" y2="753.62" stroke="#222" stroke-width="0.7"/>
<line x1="542.46" y1="748.49" x2="545.26" y2="748.49" stroke="#222" stroke-width="0.7"/>
<rect x="540.56" y="753.62" width="6.6" height="54.49" fill="#f00"/>
<line x1="564.12" y1="756.82" x2="564.12" y2="764.83" stroke="#222" stroke-width="0.7"/>
<line x1="562.72" y1="756.82" x2="565.52" y2="756.82" stroke="#222" stroke-width="0.7"/>
<rect x="560.82" y="764.83" width="6.6" height="43.27" fill="#000"/>
<line x1="584.38" y1="758.74" x2="584.38" y2="761.31" stroke="#222" stroke-width="0.7"/>
<line x1="582.98" y1="758.74" x2="585.78" y2="758.74" stroke="#222" stroke-width="0.7"/>
<rect x="581.08" y="761.31" width="6.6" height="46.79" fill="#f00"/>
<line x1="604.64" y1="765.79" x2="604.64" y2="770.28" stroke="#222" stroke-width="0.7"/>
<line x1="603.24" y1="765.79" x2="606.04" y2="765.79" stroke="#222" stroke-width="0.7"/>
<rect x="601.34" y="770.28" width="6.6" height="37.82" fill="#000"/>
<line x1="624.90" y1="758.74" x2="624.90" y2="762.59" stroke="#222" stroke-width="0.7"/>
<line x1="623.50" y1="758.74" x2="626.30" y2="758.74" stroke="#222" stroke-width="0.7"/>
<rect x="621.60" y="762.59" width="6.6" height="45.51" fill="#f00"/>
<line x1="512.6" y1="739.7" x2="512.6" y2="808.1" stroke="#7f7f7f" stroke-width="0.9"/>
<line x1="512.6" y1="808.1" x2="638.3" y2="808.1" stroke="#7f7f7f" stroke-width="0.9"/>
<text transform="translate(469.90,770.30) rotate(-90)" x="0" y="0" font-size="9.5" text-anchor="middle" fill="#000" textLength="36.2" lengthAdjust="spacingAndGlyphs">Intensity</text>
<text transform="translate(481.50,770.30) rotate(-90)" x="0" y="0" font-size="9.5" text-anchor="middle" fill="#000" textLength="77.6" lengthAdjust="spacingAndGlyphs">(CYP3A4/Calnexin)</text>
<text x="509.50" y="824.00" font-size="9.0" text-anchor="end" textLength="51" lengthAdjust="spacingAndGlyphs">5-ALA + Fe<tspan font-size="5.58" dy="-2.88">2+</tspan></text>
<line x1="525.80" y1="820.50" x2="525.80" y2="820.50"/>
<rect x="523.40" y="820.05" width="4.8" height="0.9" fill="#222"/>
<rect x="543.76" y="820.05" width="4.6" height="0.9" fill="#222"/>
<rect x="545.61" y="818.20" width="0.9" height="4.6" fill="#222"/>
<line x1="525.80" y1="827.60" x2="546.06" y2="827.60" stroke="#bfbfbf" stroke-width="0.9"/>
<text x="535.93" y="840.20" font-size="9.3" text-anchor="middle" fill="#000" textLength="18.6" lengthAdjust="spacingAndGlyphs">24 h</text>
<line x1="566.32" y1="820.50" x2="566.32" y2="820.50"/>
<rect x="563.92" y="820.05" width="4.8" height="0.9" fill="#222"/>
<rect x="584.28" y="820.05" width="4.6" height="0.9" fill="#222"/>
<rect x="586.13" y="818.20" width="0.9" height="4.6" fill="#222"/>
<line x1="566.32" y1="827.60" x2="586.58" y2="827.60" stroke="#bfbfbf" stroke-width="0.9"/>
<text x="576.45" y="840.20" font-size="9.3" text-anchor="middle" fill="#000" textLength="18.6" lengthAdjust="spacingAndGlyphs">48 h</text>
<line x1="606.84" y1="820.50" x2="606.84" y2="820.50"/>
<rect x="604.44" y="820.05" width="4.8" height="0.9" fill="#222"/>
<rect x="624.80" y="820.05" width="4.6" height="0.9" fill="#222"/>
<rect x="626.65" y="818.20" width="0.9" height="4.6" fill="#222"/>
<line x1="606.84" y1="827.60" x2="627.10" y2="827.60" stroke="#bfbfbf" stroke-width="0.9"/>
<text x="616.97" y="840.20" font-size="9.3" text-anchor="middle" fill="#000" textLength="18.6" lengthAdjust="spacingAndGlyphs">72 h</text>
<line x1="524.40" y1="744.20" x2="544.66" y2="744.20" stroke="#333" stroke-width="0.8"/>
<text x="534.53" y="745.60" font-size="10" text-anchor="middle" fill="#222" textLength="13.5" lengthAdjust="spacingAndGlyphs" style="stroke-width:0.1px;stroke:#222">***</text>
<text x="564.12" y="753.70" font-size="7.3" text-anchor="middle" fill="#222" textLength="3.5" lengthAdjust="spacingAndGlyphs" font-style="italic" style="stroke-width:0.05px;stroke:#222">#</text>
</svg></body></html>
